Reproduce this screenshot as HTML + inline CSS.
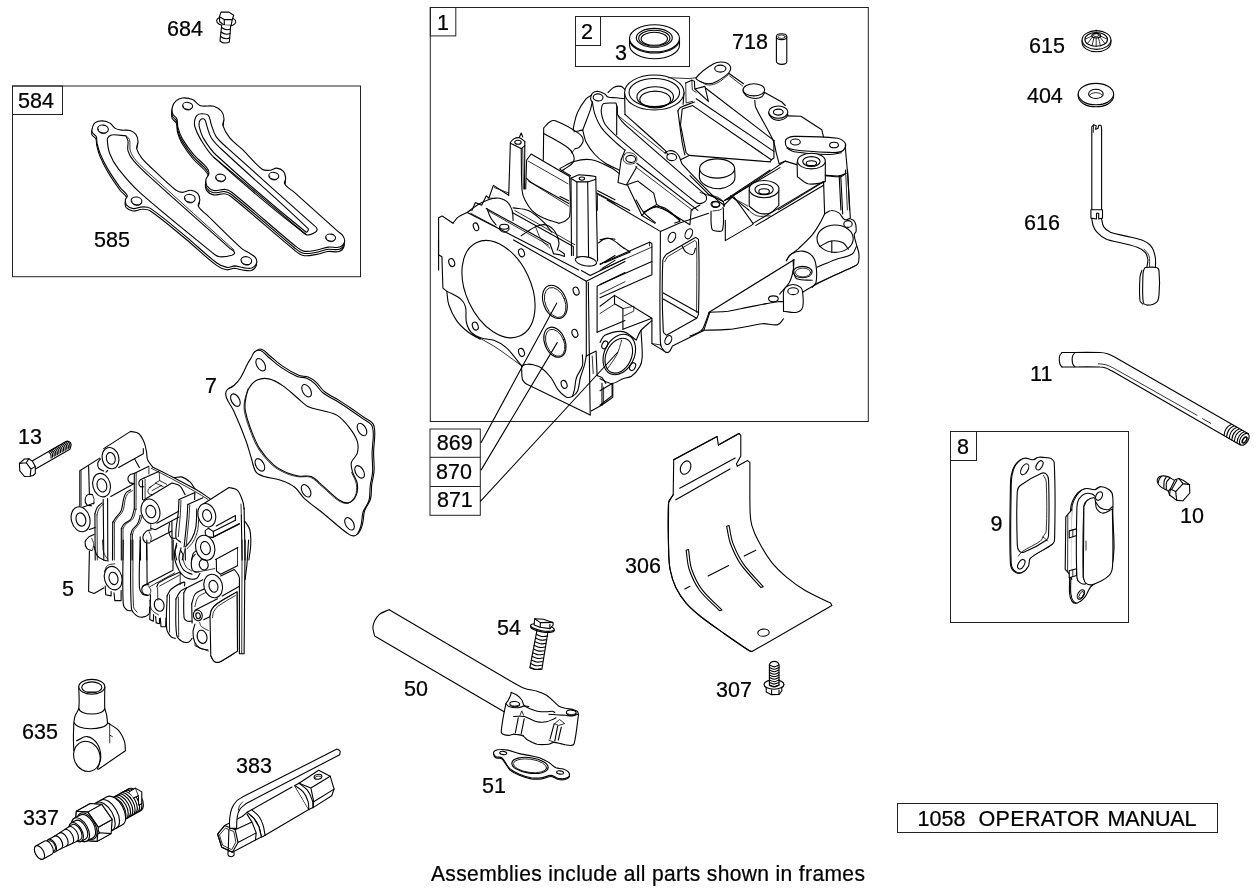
<!DOCTYPE html>
<html><head><meta charset="utf-8">
<style>
html,body{margin:0;padding:0;background:#fff;}
body{width:1260px;height:891px;overflow:hidden;font-family:"Liberation Sans",sans-serif;}
svg{display:block;filter:grayscale(1);}
text{font-family:"Liberation Sans",sans-serif;font-size:22.3px;fill:#000;stroke:#000;stroke-width:0.25;}
.f{fill:none;stroke:#222;stroke-width:1;}
.p{fill:none;stroke:#000;stroke-width:1.1;stroke-linecap:round;stroke-linejoin:round;}
.w{fill:#fff;stroke:#000;stroke-width:1.1;stroke-linecap:round;stroke-linejoin:round;}
.t{fill:none;stroke:#000;stroke-width:0.8;stroke-linecap:round;stroke-linejoin:round;}
</style></head><body>
<svg width="1260" height="891" viewBox="0 0 1260 891">
<rect width="1260" height="891" fill="#fff"/>
<g class="f">
<rect x="12.5" y="86" width="348" height="190.7"/>
<rect x="12.5" y="86" width="50" height="28.5"/>
<rect x="430.3" y="7.5" width="438" height="414"/>
<rect x="430.3" y="7.5" width="25.5" height="28.4"/>
<rect x="575.5" y="16.5" width="114" height="50"/>
<rect x="575.5" y="16.5" width="25" height="29"/>
<rect x="430" y="429" width="50.3" height="86.3"/>
<line x1="430" y1="457.3" x2="480.3" y2="457.3"/>
<line x1="430" y1="486.5" x2="480.3" y2="486.5"/>
<rect x="950.5" y="431.5" width="178" height="191"/>
<rect x="950.5" y="431.5" width="26" height="29"/>
<rect x="897.5" y="803.5" width="320" height="29"/>
</g>
<g id="labels" transform="scale(0.965 1)">
<text x="173.1" y="36">684</text>
<text x="18.7" y="108">584</text>
<text x="97.4" y="247">585</text>
<text x="452.8" y="30">1</text>
<text x="602.1" y="39">2</text>
<text x="637.3" y="60.5">3</text>
<text x="758.5" y="48.7">718</text>
<text x="1066.3" y="53">615</text>
<text x="1064.2" y="103.5">404</text>
<text x="1061.1" y="230">616</text>
<text x="1067.4" y="381">11</text>
<text x="991.7" y="454">8</text>
<text x="1026.4" y="531">9</text>
<text x="1222.8" y="523">10</text>
<text x="212.4" y="393">7</text>
<text x="18.7" y="444">13</text>
<text x="64.2" y="596">5</text>
<text x="452.6" y="450.5">869</text>
<text x="451.8" y="479.5">870</text>
<text x="452.8" y="507.5">871</text>
<text x="647.7" y="573">306</text>
<text x="515.0" y="635">54</text>
<text x="418.7" y="696">50</text>
<text x="499.5" y="793">51</text>
<text x="742.0" y="697">307</text>
<text x="22.8" y="739">635</text>
<text x="23.8" y="825">337</text>
<text x="244.6" y="773">383</text>
<text x="950.8" y="826">1058</text>
<text x="1014.0" y="826" textLength="125.4" lengthAdjust="spacing">OPERATOR</text>
<text x="1147.7" y="826" textLength="92.2" lengthAdjust="spacing">MANUAL</text>
<text x="446.6" y="881" style="font-size:21.8px" textLength="449.7" lengthAdjust="spacing">Assemblies include all parts shown in frames</text>
</g>
<g id="parts">
<!-- 684 bolt -->
<g class="p">
<ellipse cx="226.2" cy="21.3" rx="9.6" ry="4.8" transform="rotate(4 226.2 21.3)"/>
<path class="w" d="M221,12.1 L228.9,12.1 L233.7,15.2 L232.2,19.6 L231.2,25.2 L224.4,25.4 L219.7,21.8 L219.4,16.8 Z"/>
<path d="M219.4,16.8 L224.2,19.6 L232.2,19.6 M224.2,19.6 L224.4,25.4"/>
<path class="w" d="M221.7,25 L220,41 Q224,44.5 229.4,42 L230.7,25.5"/>
<path d="M221.5,27.5 Q226,31 230.5,29 M221,32 Q225.5,35.5 230.2,33.5 M220.5,36.5 Q225,40 229.8,38"/>
</g>
<!-- 585 gasket -->
<path class="w" d="M92.5,128.7C93,127.2 93.7,125.6 95.1,124.8C97.1,123.6 99.7,123.2 102.1,123.3C104.7,123.4 107.3,124.1 109.6,125.5C111.7,126.7 112.7,129.5 114.9,130.8C116.8,131.9 119.1,132.2 121.3,132.5C124.1,132.9 127.1,132.1 129.8,132.9C132,133.6 134.2,134.9 135.6,136.8C137,138.7 137.6,141.2 137.7,143.6C137.9,146.1 135.9,148.6 136.4,151C137.2,154.6 139.3,157.8 141.5,160.6C144.6,164.6 148.5,167.9 152.2,171.3C159.9,178.5 167.4,186.1 175.7,192.6C177.4,194 179.8,194.8 182.1,194.8C185,194.8 187.7,192.4 190.6,192.6C193.1,192.8 195.7,194 197.4,195.8C198.9,197.5 199.4,200 199.5,202.2C199.7,204.4 197.1,206.7 198.1,208.6C200.1,212.7 204.4,215.1 207.6,218.2C219,229.3 230,240.6 241.8,251.3C243.6,252.9 246.1,253.6 248.2,254.9C250.5,256.4 253.3,257.6 255,259.8C256.2,261.4 256.9,263.7 256.3,265.6C255.5,267.7 253.6,269.7 251.4,270.5C248.7,271.4 245.7,270.4 242.8,270C240,269.7 237.2,268.4 234.3,268.3C231.8,268.3 229.3,270.3 226.8,269.8C223,269.1 219.3,267.5 216.2,265.1C205.7,257.3 196.4,247.9 186.3,239.5C174.4,229.7 162.8,219.5 150.1,210.8C147.8,209.2 144.7,209.2 142,209.3C138.9,209.3 136,211.3 133,211C130.5,210.7 127.9,209.4 126.2,207.6C125,206.2 125,204 125.1,202.2C125.3,200.7 127.6,199.4 127,198C125.7,194.8 122.2,193.2 120.2,190.5C115.7,184.3 111.3,177.9 107.4,171.3C104.6,166.5 102.1,161.5 100,156.4C98.5,152.9 97.6,149.3 96.8,145.7C96.2,143.5 96.8,141 95.9,138.9C95.1,137.1 92.5,136.5 91.9,134.6C91.2,132.7 91.9,130.6 92.5,128.7Z"/>
<path class="w" d="M92.8,126.3C93.3,124.8 94,123.2 95.4,122.4C97.4,121.2 100,120.8 102.4,120.9C105,121 107.6,121.7 109.9,123.1C112,124.3 113,127.1 115.2,128.4C117.1,129.5 119.4,129.8 121.6,130.1C124.4,130.5 127.4,129.7 130.1,130.5C132.3,131.2 134.5,132.5 135.9,134.4C137.3,136.3 137.9,138.8 138,141.2C138.2,143.7 136.2,146.2 136.7,148.6C137.5,152.2 139.6,155.4 141.8,158.2C144.9,162.2 148.8,165.5 152.5,168.9C160.2,176.1 167.7,183.7 176,190.2C177.7,191.6 180.1,192.4 182.4,192.4C185.3,192.4 188,190 190.9,190.2C193.4,190.4 196,191.6 197.7,193.4C199.2,195.1 199.7,197.6 199.8,199.8C200,202 197.4,204.3 198.4,206.2C200.4,210.3 204.7,212.7 207.9,215.8C219.3,226.9 230.3,238.2 242.1,248.9C243.9,250.5 246.4,251.2 248.5,252.5C250.8,254 253.6,255.2 255.3,257.4C256.5,259 257.2,261.3 256.6,263.2C255.8,265.3 253.9,267.3 251.7,268.1C249,269 246,268 243.1,267.6C240.3,267.3 237.5,266 234.6,265.9C232.1,265.9 229.6,267.9 227.1,267.4C223.3,266.7 219.6,265.1 216.5,262.7C206,254.9 196.7,245.5 186.6,237.1C174.7,227.3 163.1,217.1 150.4,208.4C148.1,206.8 145,206.8 142.3,206.9C139.2,206.9 136.3,208.9 133.3,208.6C130.8,208.3 128.2,207 126.5,205.2C125.3,203.8 125.3,201.6 125.4,199.8C125.6,198.3 127.9,197 127.3,195.6C126,192.4 122.5,190.8 120.5,188.1C116,181.9 111.6,175.5 107.7,168.9C104.9,164.1 102.4,159.1 100.3,154C98.8,150.5 97.9,146.9 97.1,143.3C96.5,141.1 97.1,138.6 96.2,136.5C95.4,134.7 92.8,134.1 92.2,132.2C91.5,130.3 92.2,128.2 92.8,126.3Z"/>
<path class="p" d="M125.8,135.8C126.6,137.6 127.7,139.3 128,141.2C128.4,144.3 127.1,147.7 128,150.8C129,154.3 131,157.6 133.3,160.4C138.5,166.5 144.4,172 150.4,177.4C176.4,201.2 203,224.4 229.3,247.8C231,249.4 233.8,250.3 234.6,252.5C235,253.7 233.1,254.9 231.8,255.3C227.9,256.4 223.7,257 219.7,256.8C217.7,256.6 215.9,255.4 214.3,254.2C189.2,233.9 163.9,213.8 139.7,192.4C131.8,185.3 124.9,177.2 118.4,168.9C114.9,164.4 111.9,159.3 109.9,154C108.2,149.6 107.6,144.8 107.3,140.1C107.2,138.8 107.8,137.4 108.8,136.5C109.9,135.4 111.5,134.8 113.1,134.8C117.3,134.6 121.6,135.5 125.8,135.8Z"/>
<path class="t" d="M125.8,135.8C127.1,137.1 129,137.8 129.5,139.5C130.6,143.1 129.2,147.2 130.3,150.8C131.4,154.3 133.5,157.6 135.9,160.4C140.9,166.2 146.8,171.2 152.5,176.4C179.5,201 206.8,225.4 234,249.9"/>
<ellipse class="p" cx="103" cy="129" rx="5.4" ry="3.9" transform="rotate(10 103 129)"/>
<path class="t" d="M98.4,129.2 a4.6,3.2 10 0 0 9,2.2"/>
<ellipse class="p" cx="136.5" cy="200.9" rx="5.4" ry="3.9" transform="rotate(10 136.5 200.9)"/>
<path class="t" d="M131.9,201.1 a4.6,3.2 10 0 0 9,2.2"/>
<ellipse class="p" cx="189.8" cy="198.3" rx="5.4" ry="3.9" transform="rotate(10 189.8 198.3)"/>
<path class="t" d="M185.2,198.5 a4.6,3.2 10 0 0 9,2.2"/>
<ellipse class="p" cx="246.3" cy="260.6" rx="5.4" ry="3.9" transform="rotate(10 246.3 260.6)"/>
<path class="t" d="M241.7,260.8 a4.6,3.2 10 0 0 9,2.2"/>
<!-- 584 plate -->
<path class="w" d="M171.8,111.8C172.4,109.5 173.5,107.2 175.2,105.6C177,103.9 179.5,102.6 181.9,102.4C185.3,102.1 188.9,102.7 192,104C195.1,105.3 196.8,109.1 199.9,110.1C204.2,111.4 209,109.5 213.4,110.7C216.4,111.6 219.2,113.5 221.2,115.9C222.8,117.8 223.3,120.6 223.5,123.1C223.7,125.3 221.7,127.6 222.4,129.8C223.7,134.3 226.1,138.5 229.1,142.1C232.9,146.9 238.2,150.3 242.6,154.5C249,160.7 254.4,168.2 261.6,173.6C263.7,175.2 266.9,174.9 269.5,174.7C271.8,174.5 273.9,172.3 276.2,172.5C278.7,172.7 281.3,173.9 283,175.8C284.5,177.6 285,180.2 285.2,182.6C285.4,184.5 283.1,186.5 284.1,188.2C286.4,192 290.8,194.1 294.2,197.1C308.4,209.9 322.6,222.6 336.8,235.3C338.7,237 341.1,238.1 342.4,240.2C343.6,242.1 344.6,244.5 344,246.5C343.3,248.8 341.3,250.8 339.1,251.5C335.5,252.6 331.6,251 327.9,251.5C324,252 320.4,253.8 316.6,254.4C312.2,255.1 307.6,256.4 303.2,255.5C299.7,254.8 296.9,252.1 294.2,249.9C272.9,232.5 252.7,213.9 231.3,196.7C229.4,195.2 227,194 224.6,193.8C220.9,193.4 217.1,195.6 213.4,194.9C210.7,194.4 208.2,192.6 206.6,190.4C205.3,188.5 205.2,185.9 205.5,183.7C205.8,181.6 208.2,180.2 208.4,178.1C208.6,176.1 207.9,174 206.6,172.5C202.7,167.5 197.3,163.8 193.2,159C189,154.1 185.2,148.8 181.9,143.3C179.9,139.8 178.5,135.9 177.5,132C176.7,129.1 177.4,125.9 176.3,123.1C175.6,121.2 173,120.4 172.3,118.6C171.5,116.5 171.4,114 171.8,111.8Z"/>
<path class="w" d="M172,109.6C172.6,107.3 173.7,105 175.4,103.4C177.2,101.7 179.7,100.4 182.1,100.2C185.5,99.9 189.1,100.5 192.2,101.8C195.3,103.1 197,106.9 200.1,107.9C204.4,109.2 209.2,107.3 213.6,108.5C216.6,109.4 219.4,111.3 221.4,113.7C223,115.6 223.5,118.4 223.7,120.9C223.9,123.1 221.9,125.4 222.6,127.6C223.9,132.1 226.3,136.3 229.3,139.9C233.1,144.7 238.4,148.1 242.8,152.3C249.2,158.5 254.6,166 261.8,171.4C263.9,173 267.1,172.7 269.7,172.5C272,172.3 274.1,170.1 276.4,170.3C278.9,170.5 281.5,171.7 283.2,173.6C284.7,175.4 285.2,178 285.4,180.4C285.6,182.3 283.3,184.3 284.3,186C286.6,189.8 291,191.9 294.4,194.9C308.6,207.7 322.8,220.4 337,233.1C338.9,234.8 341.3,235.9 342.6,238C343.8,239.9 344.8,242.3 344.2,244.3C343.5,246.6 341.5,248.6 339.3,249.3C335.7,250.4 331.8,248.8 328.1,249.3C324.2,249.8 320.6,251.6 316.8,252.2C312.4,252.9 307.8,254.2 303.4,253.3C299.9,252.6 297.1,249.9 294.4,247.7C273.1,230.3 252.9,211.7 231.5,194.5C229.6,193 227.2,191.8 224.8,191.6C221.1,191.2 217.3,193.4 213.6,192.7C210.9,192.2 208.4,190.4 206.8,188.2C205.5,186.3 205.4,183.7 205.7,181.5C206,179.4 208.4,178 208.6,175.9C208.8,173.9 208.1,171.8 206.8,170.3C202.9,165.3 197.5,161.6 193.4,156.8C189.2,151.9 185.4,146.6 182.1,141.1C180.1,137.6 178.7,133.7 177.7,129.8C176.9,126.9 177.6,123.7 176.5,120.9C175.8,119 173.2,118.2 172.5,116.4C171.7,114.3 171.6,111.8 172,109.6Z"/>
<path class="w" d="M172.3,107.4C172.9,105.1 174,102.8 175.7,101.2C177.5,99.5 180,98.2 182.4,98C185.8,97.7 189.4,98.3 192.5,99.6C195.6,100.9 197.3,104.7 200.4,105.7C204.7,107 209.5,105.1 213.9,106.3C216.9,107.2 219.7,109.1 221.7,111.5C223.3,113.4 223.8,116.2 224,118.7C224.2,120.9 222.2,123.2 222.9,125.4C224.2,129.9 226.6,134.1 229.6,137.7C233.4,142.5 238.7,145.9 243.1,150.1C249.5,156.3 254.9,163.8 262.1,169.2C264.2,170.8 267.4,170.5 270,170.3C272.3,170.1 274.4,167.9 276.7,168.1C279.2,168.3 281.8,169.5 283.5,171.4C285,173.2 285.5,175.8 285.7,178.2C285.9,180.1 283.6,182.1 284.6,183.8C286.9,187.6 291.3,189.7 294.7,192.7C308.9,205.5 323.1,218.2 337.3,230.9C339.2,232.6 341.6,233.7 342.9,235.8C344.1,237.7 345.1,240.1 344.5,242.1C343.8,244.4 341.8,246.4 339.6,247.1C336,248.2 332.1,246.6 328.4,247.1C324.5,247.6 320.9,249.4 317.1,250C312.7,250.7 308.1,252 303.7,251.1C300.2,250.4 297.4,247.7 294.7,245.5C273.4,228.1 253.2,209.5 231.8,192.3C229.9,190.8 227.5,189.6 225.1,189.4C221.4,189 217.6,191.2 213.9,190.5C211.2,190 208.7,188.2 207.1,186C205.8,184.1 205.7,181.5 206,179.3C206.3,177.2 208.7,175.8 208.9,173.7C209.1,171.7 208.4,169.6 207.1,168.1C203.2,163.1 197.8,159.4 193.7,154.6C189.5,149.7 185.7,144.4 182.4,138.9C180.4,135.4 179,131.5 178,127.6C177.2,124.7 177.9,121.5 176.8,118.7C176.1,116.8 173.5,116 172.8,114.2C172,112.1 171.9,109.6 172.3,107.4Z"/>
<path class="p" d="M194.8,119.8C195.1,118.2 195.8,116.4 197,115.3C198.2,114.2 199.9,113.7 201.5,113.7C203.8,113.7 206.7,113.6 208.3,115.3C210.4,117.6 210.1,121.3 211.2,124.3C212.7,128.4 213.6,133 216.1,136.6C219.1,141 223.4,144.3 227.3,147.9C255.6,173.5 284.3,198.6 312.6,224.2C314.3,225.7 316.9,226.9 317.1,229.1C317.3,230.8 315.3,232.4 313.8,233.1C311.4,234.3 308,236.1 305.9,234.5C274,210.3 243.5,184.2 213.9,157.3C208.2,152.2 204.4,145.3 200.4,138.9C198,135 196.1,130.9 194.8,126.5C194.2,124.4 194.4,122 194.8,119.8Z"/>
<path class="p" d="M199.3,122C199.6,120.8 200.4,119.6 201.5,119.1C202.6,118.7 204.2,118.9 204.9,119.8C206.1,121.3 206,123.6 206.7,125.4C208.1,129.5 208.8,134.1 211.2,137.7C214.3,142.6 218.6,146.6 222.9,150.5C251,176.9 280.6,201.7 308.1,228.7C309.1,229.6 307,232.9 305.9,232C275.1,207.4 245.2,181.6 216.1,155C211.1,150.5 207.3,144.7 203.8,138.9C201.7,135.5 200.5,131.5 199.5,127.6C199,125.8 198.9,123.9 199.3,122Z"/>
<path class="p" d="M213.9,157.3C225.8,167.2 237.9,177.1 249.8,187.1C268.5,202.9 287.2,218.7 305.9,234.5" stroke-width="1.6"/>
<ellipse class="p" cx="187.6" cy="105.9" rx="5" ry="3.5" transform="rotate(8 187.6 105.9)"/>
<path class="t" d="M183.4,106.1 a4.2,2.8 8 0 0 8.2,2"/>
<ellipse class="p" cx="220.6" cy="177.7" rx="5" ry="3.5" transform="rotate(8 220.6 177.7)"/>
<path class="t" d="M216.4,177.9 a4.2,2.8 8 0 0 8.2,2"/>
<ellipse class="p" cx="273.8" cy="175.9" rx="5" ry="3.5" transform="rotate(8 273.8 175.9)"/>
<path class="t" d="M269.6,176.1 a4.2,2.8 8 0 0 8.2,2"/>
<ellipse class="p" cx="330.6" cy="237.6" rx="5" ry="3.5" transform="rotate(8 330.6 237.6)"/>
<path class="t" d="M326.4,237.8 a4.2,2.8 8 0 0 8.2,2"/>
<!-- seal 3 -->
<g class="p">
<path class="w" d="M629.5,38.5 L629.5,45 A25,13.7 0 0 0 679.5,45 L679.5,38.5"/>
<path d="M630,42 A25,13.7 0 0 0 679,42"/>
<ellipse class="w" cx="654.5" cy="38.3" rx="25" ry="13.6"/>
<ellipse cx="654.3" cy="37.8" rx="18" ry="9.4"/>
<ellipse cx="654.3" cy="38.2" rx="15.6" ry="8"/>
<ellipse cx="654.3" cy="38.8" rx="13.2" ry="6.6"/>
<path d="M650,46.3 L661,46.3" stroke-width="1.6" stroke="#555"/>
</g>
<!-- pin 718 -->
<g class="p">
<path class="w" d="M776.4,36.7 L776.4,61.6 A5.2,2.8 0 0 0 786.8,61.6 L786.8,36.7"/>
<ellipse class="w" cx="781.6" cy="36.7" rx="5.2" ry="2.9"/>
<ellipse cx="781.6" cy="36.7" rx="3.6" ry="1.7" class="t"/>
</g>
<!-- 615 -->
<g class="p">
<path class="w" d="M1082.1,40.2 L1082.1,42.6 A14.4,9.2 0 0 0 1110.9,42.6 L1110.9,40.2"/>
<ellipse class="w" cx="1096.5" cy="40" rx="14.4" ry="9.4"/>
<ellipse cx="1096.2" cy="39.4" rx="11.3" ry="6.9"/>
<ellipse cx="1096.2" cy="35.6" rx="4.4" ry="2.4"/>
<ellipse cx="1096.2" cy="35.2" rx="3" ry="1.4" class="t"/>
<path class="t" d="M1096.2,38 L1096.2,46.3 M1092.5,37 L1087.5,43.5 M1091.9,36 L1085.6,39 M1099.9,37 L1104.9,43.5 M1100.5,36 L1106.8,39 M1094,37.7 L1092,45.6 M1098.4,37.7 L1100.4,45.6 M1096.2,30 L1096.2,31.5"/>
</g>
<!-- 404 -->
<g class="p">
<path class="w" d="M1078.2,94.1 L1078.2,96.1 A17.7,10.7 0 0 0 1113.6,96.1 L1113.6,94.1"/>
<ellipse class="w" cx="1095.9" cy="94.1" rx="17.7" ry="10.7"/>
<ellipse cx="1095.9" cy="93.9" rx="7.3" ry="4.6"/>
<path class="t" d="M1089.4,95.2 A7,4.2 0 0 1 1102.4,95.2"/>
</g>
<!-- 616 -->
<path class="w" d="M1091.8,209.8L1091.8,126.8L1093.6,124.8L1096.2,125.7L1095.6,129.3L1098,128.4L1098.7,125.3L1101,125.3L1101.6,127.9L1101.6,209.8"/>
<path class="t" d="M1093.6,124.8L1093.3,132.4"/>
<path class="p" d="M1091.8,218.8C1092.2,221 1092.3,223.4 1093.1,225.5C1094,227.9 1095.1,230.4 1096.9,232.2C1099.5,235 1102.5,237.5 1105.9,239C1110.8,241.1 1116.4,241.6 1121.6,243C1126.8,244.4 1132.3,245.3 1137.3,247.3C1140.2,248.4 1143.1,250.1 1145.1,252.4C1146.7,254.2 1147.5,256.8 1147.8,259.2C1148.2,261.8 1147.2,264.4 1146.9,267 M1101.6,218.8C1102.3,221.4 1102.2,224.4 1103.6,226.6C1105.2,229.1 1107.7,231.1 1110.4,232.2C1115.3,234.3 1120.8,234.7 1126.1,236.1C1131.3,237.4 1136.8,238 1141.8,240.1C1145.3,241.5 1148.8,243.4 1151.2,246.4C1153.5,249.3 1154.5,253.2 1155.2,256.9C1155.9,260.2 1155.4,263.6 1155.5,267"/>
<path class="t" d="M1144,249.1C1145.7,251.3 1148.1,253.1 1149,255.8C1150.1,259.4 1149.4,263.3 1149.6,267"/>
<path class="w" d="M1090.9,209.8L1102.5,209.8L1102.5,218.1L1098.7,219L1098.7,213.2L1096.5,213.2L1096.5,219L1090.9,218.1Z"/>
<path class="p" d="M1141.8,270.4C1141.2,272.6 1140.1,274.8 1140,277.1C1139.5,284.9 1139.1,292.8 1140,300.7C1140.1,302.2 1141.9,303 1142.9,304.2"/>
<path class="w" d="M1145.1,267.5C1148.9,267.5 1152.7,266.5 1156.4,267.5C1157.8,267.8 1158.9,269.6 1159,271C1159.8,279 1159.7,287.1 1159,295C1158.8,297.7 1158.3,300.7 1156.4,302.4C1154,304.5 1150.5,305.1 1147.4,305.1C1145.8,305.1 1143.6,304 1143.3,302.4C1142,293.7 1142.8,284.8 1142.9,276C1142.9,274.1 1143.1,272.2 1143.6,270.4C1143.9,269.3 1144.6,268.4 1145.1,267.5Z"/>
<!-- tube 11 -->
<path class="p" d="M1062,352.5C1074.7,352.5 1087.3,352.2 1100,352.5C1102.5,352.6 1105.1,353 1107.5,353.7C1109.6,354.3 1111.4,355.4 1113.3,356.3L1248.4,433.7 M1062,367C1074.7,367 1087.3,366.7 1100,367C1102,367 1104,367.4 1105.8,368C1107.9,368.7 1109.7,369.9 1111.7,370.8L1240.3,445"/>
<path class="p" d="M1062,352.5C1061.2,353.6 1060.1,354.6 1059.7,355.8C1059.2,357.1 1059.3,358.6 1059.3,360C1059.4,361.4 1059.5,362.9 1060,364.2C1060.4,365.2 1061.3,366.1 1062,367"/>
<path class="p" d="M1074.7,352.8C1073.9,354 1073,355 1072.5,356.3C1072.1,357.5 1072.1,358.8 1072.2,360C1072.2,361.3 1072.2,362.6 1072.7,363.8C1073.1,365 1074,365.8 1074.7,366.8"/>
<path class="t" d="M1098.3,363.8C1100.8,364.1 1103.4,364 1105.8,364.7C1108.2,365.3 1110.3,366.6 1112.5,367.5L1197.0,415.3"/>
<path class="t" d="M1202.5,418.7L1210.8,423.3"/>
<path class="p" d="M1231.3,424.4 q-6.5,2.5 -7.3,11"/>
<path class="p" d="M1233.9,425.9 q-6.5,2.5 -7.3,11"/>
<path class="p" d="M1236.5,427.4 q-6.5,2.5 -7.3,11"/>
<path class="p" d="M1239.1,428.9 q-6.5,2.5 -7.3,11"/>
<path class="p" d="M1241.7,430.3 q-6.5,2.5 -7.3,11"/>
<path class="p" d="M1244.3,431.8 q-6.5,2.5 -7.3,11"/>
<ellipse class="w" cx="1244.3" cy="439.3" rx="6.6" ry="3.9" transform="rotate(-57 1244.3 439.3)"/>
<ellipse class="w" cx="1244.6" cy="440" rx="3.3" ry="1.7" transform="rotate(-57 1244.6 440)" style="stroke-width:1.6"/>
<!-- plug 10 -->
<path class="w" d="M1173.7,479.9C1171.4,478.7 1169.3,477.1 1166.9,476.4C1165.2,475.8 1163.3,475.7 1161.5,476C1160.4,476.1 1159.2,476.5 1158.5,477.4C1157.7,478.4 1156.9,479.9 1157.2,481.2C1157.5,483.1 1158.7,485 1160.2,486.3C1162.5,488.4 1165.6,489.5 1168.3,491.1"/>
<path class="p" d="M1161.5,476.2C1160.8,477.2 1159.8,478 1159.2,479.2C1158.7,480.2 1158.6,481.4 1158.3,482.6M1166.6,476.6C1165.8,478 1164.6,479.3 1164.2,480.9C1163.7,483.2 1164,485.6 1163.9,487.9M1170,478C1168.8,479.4 1167.1,480.5 1166.6,482.2C1165.8,484.6 1166.4,487.2 1166.3,489.6"/>
<path class="w" d="M1175.7,491.6L1170.3,489L1175,479.7L1178.7,478.5L1183.1,480.2L1189.5,484.6L1189.8,493L1183.1,500.7L1176.7,500.4L1169.6,495L1168.3,491.1L1170.3,489"/>
<path class="p" d="M1175.7,491.6L1183.1,483.6L1189.5,484.6M1175.7,491.6L1176.7,500.4M1183.1,483.6L1178.7,478.5M1171.6,489.6L1176.9,480.2M1170.3,489L1169.6,495"/>
<!-- gasket 9 -->
<path class="w" d="M1049.8,458.6C1051,459.9 1053.4,460.8 1053.4,462.6C1054.7,488.2 1054.4,513.8 1053.8,539.4C1053.8,541.2 1053.2,543.3 1051.8,544.4C1044.9,549.9 1036.1,552.6 1029.6,558.6C1027.6,560.5 1029,564.3 1027.6,566.7C1026.2,569.1 1024.2,571.7 1021.5,572.7C1019.3,573.6 1016.3,573.2 1014.5,571.7C1012.1,569.8 1010.6,566.6 1010.4,563.6C1009.2,538.1 1010.1,512.5 1010.4,486.9C1010.5,482.8 1010.5,478.7 1011.4,474.7C1012.2,471.2 1013.3,467.5 1015.5,464.6C1017.5,461.9 1020.3,459.4 1023.5,458.6C1026.5,457.8 1029.6,460.4 1032.6,460.2C1034.5,460.1 1035.8,457.7 1037.7,457.6C1041.7,457.2 1045.8,458.2 1049.8,458.6Z"/>
<path class="w" d="M1050.6,458.2C1051.8,459.5 1054.2,460.4 1054.2,462.2C1055.5,487.8 1055.2,513.4 1054.6,539C1054.6,540.8 1054,542.9 1052.6,544C1045.7,549.5 1036.9,552.2 1030.4,558.2C1028.4,560.1 1029.8,563.9 1028.4,566.3C1027,568.7 1025,571.3 1022.3,572.3C1020.1,573.2 1017.1,572.8 1015.3,571.3C1012.9,569.4 1011.4,566.2 1011.2,563.2C1010,537.7 1010.9,512.1 1011.2,486.5C1011.3,482.4 1011.3,478.3 1012.2,474.3C1013,470.8 1014.1,467.1 1016.3,464.2C1018.3,461.5 1021.1,459 1024.3,458.2C1027.3,457.4 1030.4,460 1033.4,459.8C1035.3,459.7 1036.6,457.3 1038.5,457.2C1042.5,456.8 1046.6,457.8 1050.6,458.2Z"/>
<path class="p" d="M1017.3,491.5C1017.4,489.3 1018.5,486.8 1020.3,485.5C1026.8,480.6 1034,476.5 1041.5,473.3C1043.1,472.7 1045.4,473.1 1046.6,474.3C1048.1,475.8 1048.5,478.3 1048.6,480.4C1049.2,498.6 1049.2,516.8 1048.6,534.9C1048.5,536.8 1048,539 1046.6,540C1039.7,544.9 1032.2,548.9 1024.3,552.1C1022.8,552.8 1020.5,552.3 1019.3,551.1C1017.8,549.6 1017.3,547.2 1017.3,545.1C1016.7,527.2 1016.4,509.3 1017.3,491.5Z"/>
<path class="t" d="M1043.5,475.4C1044.4,477.4 1046.1,479.2 1046.2,481.4C1046.9,497.9 1047.1,514.4 1046.2,530.9C1046,533.2 1044,535 1042.9,537C1042.2,538.3 1041.8,540.1 1040.5,541C1034.8,545 1028.1,547.6 1022.3,551.5C1020.6,552.7 1019.6,554.6 1018.3,556.2"/>
<path class="t" d="M1042.9,537C1043.8,537.6 1044.7,538.3 1045.6,539C1046.3,539.6 1046.9,540.3 1047.6,541"/>
<ellipse class="p" cx="1024.7" cy="469.3" rx="3.2" ry="6" transform="rotate(30 1024.7 469.3)"/>
<ellipse class="p" cx="1039.5" cy="465.3" rx="2.8" ry="5" transform="rotate(30 1039.5 465.3)"/>
<ellipse class="p" cx="1021.3" cy="564.2" rx="2.9" ry="5.2" transform="rotate(30 1021.3 564.2)"/>
<!-- breather -->
<path class="w" d="M1070.6,509C1070.7,506.2 1071.5,503.4 1072.6,500.9C1073.9,498 1075.4,495.1 1077.7,492.8C1079.6,490.9 1082.1,489.3 1084.8,488.8C1087.8,488.3 1090.8,490.3 1093.9,490C1095.8,489.8 1097,487.4 1098.9,487.2C1101.3,486.9 1103.9,487.6 1106,488.8C1108.1,489.9 1110.4,491.5 1111,493.8C1112.4,499.4 1111.7,505.3 1111.6,511C1111.4,530.5 1115.4,550.8 1110,569.6C1107.6,578.1 1095.9,580.3 1089.8,586.8C1087,589.7 1086.3,594.3 1083.7,597.5C1081.9,599.8 1079.5,602.2 1076.7,603.1C1075.1,603.6 1073,602.6 1072,601.3C1070.4,599.2 1069.9,596.4 1069.6,593.8C1069.1,589.2 1069.6,584.4 1069.6,579.7C1069.9,556.1 1069.7,532.5 1070.6,509Z"/>
<path class="w" d="M1071.8,508.7C1071.9,505.9 1072.7,503.1 1073.8,500.6C1075.1,497.7 1076.6,494.8 1078.9,492.5C1080.8,490.6 1083.3,489 1086,488.5C1089,488 1092,490 1095.1,489.7C1097,489.5 1098.2,487.1 1100.1,486.9C1102.5,486.6 1105.1,487.3 1107.2,488.5C1109.3,489.6 1111.6,491.2 1112.2,493.5C1113.6,499.1 1112.9,505 1112.8,510.7C1112.6,530.2 1116.6,550.5 1111.2,569.3C1108.8,577.8 1097.1,580 1091,586.5C1088.2,589.4 1087.5,594 1084.9,597.2C1083.1,599.5 1080.7,601.9 1077.9,602.8C1076.3,603.3 1074.2,602.3 1073.2,601C1071.6,598.9 1071.1,596.1 1070.8,593.5C1070.3,588.9 1070.8,584.1 1070.8,579.4C1071.1,555.8 1070.9,532.2 1071.8,508.7Z"/>
<ellipse class="p" cx="1099.1" cy="496" rx="3" ry="4.6" transform="rotate(28 1099.1 496)"/>
<ellipse class="p" cx="1080.9" cy="594.5" rx="3" ry="5.2" transform="rotate(30 1080.9 594.5)"/>
<ellipse class="t" cx="1081.4" cy="594.9" rx="1.8" ry="3.8" transform="rotate(30 1081.4 594.9)"/>
<path class="w" d="M1071.8,509.7L1065.8,516.8L1065.2,569.3L1070.4,574.9L1071.8,579.4"/>
<path class="t" d="M1067.8,515.2L1067.6,571.3"/>
<path class="w" d="M1076.9,507.7C1076.9,504.7 1077.4,501.6 1078.9,499C1080.2,496.7 1082.4,494.7 1084.9,493.7C1087.2,492.9 1089.8,493.3 1092,494.1C1093.4,494.7 1096,496.4 1095.1,497.6C1093.3,499.8 1089.2,498.8 1087,500.6C1085.2,502 1084,504.4 1083.9,506.7C1082.8,530.2 1082.7,553.8 1083.3,577.4C1083.4,579.6 1087.2,581.6 1086,583.4C1084.8,585.1 1081.6,583.8 1079.9,582.6C1078.2,581.5 1077,579.4 1076.9,577.4C1075.9,554.2 1076.3,530.9 1076.9,507.7Z"/>
<path class="w" d="M1083.9,506.7C1084.9,504.6 1085.3,502.1 1087,500.6C1088.9,498.9 1091.5,497.5 1094,497.8C1095.4,497.9 1095.1,500.3 1095.5,501.6C1096,503.9 1095.3,506.7 1096.7,508.7C1098.1,510.9 1100.5,513.1 1103.1,513.1C1106.5,513.2 1109.3,510.4 1112.4,509.1C1112.5,527.8 1113.5,546.6 1112.6,565.3C1112.5,568.8 1111.7,572.9 1109.2,575.4C1104.8,579.7 1098.9,582.4 1093,584.4C1090.8,585.2 1087.9,584.8 1086,583.4C1084.2,582.1 1084.2,579.4 1083.3,577.4L1083.9,506.7Z"/>
<path class="p" d="M1095.5,501.6C1097,503.6 1098,506.3 1100.1,507.7C1102.4,509.2 1105.4,509.9 1108.2,509.7C1109.9,509.6 1111,507.7 1112.4,506.7"/>
<path class="t" d="M1086,541L1086,550.1" stroke="#fff" stroke-width="2"/>
<path class="w" d="M1069.2,530.9L1076.5,528.9L1076.5,535.6L1069.2,538Z"/>
<path class="t" d="M1072.8,529.9L1072.8,536.8"/>
<path class="w" d="M1069.2,570.7L1076.5,568.7L1076.5,575.4L1069.2,577.8Z"/>
<path class="t" d="M1072.8,569.7L1072.8,576.6"/>
<!-- gasket 7 -->
<path class="w" d="M252.7,356.5C253.9,354.5 254.4,352 256.3,350.6C257.9,349.4 260.3,348.7 262.2,349.4C265,350.5 266.9,353.3 269.2,355.3C273.5,358.8 277.6,362.8 282.2,365.9C287.4,369.5 292.9,372.8 298.7,375.3C301.6,376.6 305.1,375.8 308.1,377C311.2,378.2 313.9,380.2 316.3,382.4C319.4,385.2 321.3,389.2 324.6,391.8C328.9,395.2 334.1,397.2 338.7,400.1C343.5,403.1 348.2,406.3 352.9,409.5C356.8,412.2 360.7,415 364.6,417.7C367.4,419.7 371,420.8 372.9,423.6C374.7,426.3 374.7,429.8 374.8,433C374.9,439.3 373.7,445.6 373.6,451.9C373.5,458.2 374.4,464.5 374.1,470.7C373.8,475.5 372.3,480.1 371.7,484.9C371.1,489.6 371.8,494.4 370.5,499C369.4,503.2 366,506.6 364.6,510.8C363.2,515.3 363.7,520.4 362.3,524.9C361.3,528.2 360.3,531.9 357.6,533.9C355.6,535.2 352.5,534.5 350.5,533.2C341.2,527 333.3,519 324.6,512C318.4,507 311.6,502.5 305.7,497.1C302.2,493.8 300.2,489 296.3,486.1C292.1,482.8 287.2,480.7 282.2,479C276.9,477.1 271,477.2 265.7,475.4C262.7,474.4 259.2,473.3 257.4,470.7C254.6,466.6 254.3,461.3 252.7,456.6C250.7,450.3 249.2,443.9 246.8,437.8C243.3,428.2 239.3,418.8 235.1,409.5C233,405 229.6,401.2 228,396.5C227.2,394.3 226.8,391.5 228,389.5C229.4,387 233,386.7 235.1,384.7C237.7,382.3 240.2,379.6 242.1,376.5C244.9,372 246.7,367 249.2,362.4C250.3,360.3 251.6,358.4 252.7,356.5Z"/>
<path class="w" d="M251.2,357.7C252.4,355.7 252.9,353.2 254.8,351.8C256.4,350.6 258.8,349.9 260.7,350.6C263.5,351.7 265.4,354.5 267.7,356.5C272,360 276.1,364 280.7,367.1C285.9,370.7 291.4,374 297.2,376.5C300.1,377.8 303.6,377 306.6,378.2C309.7,379.4 312.4,381.4 314.8,383.6C317.9,386.4 319.8,390.4 323.1,393C327.4,396.4 332.6,398.4 337.2,401.3C342,404.3 346.7,407.5 351.4,410.7C355.3,413.4 359.2,416.2 363.1,418.9C365.9,420.9 369.5,422 371.4,424.8C373.2,427.5 373.2,431 373.3,434.2C373.4,440.5 372.2,446.8 372.1,453.1C372,459.4 372.9,465.7 372.6,471.9C372.3,476.7 370.8,481.3 370.2,486.1C369.6,490.8 370.3,495.6 369,500.2C367.9,504.4 364.5,507.8 363.1,512C361.7,516.5 362.2,521.6 360.8,526.1C359.8,529.4 358.8,533.1 356.1,535.1C354.1,536.4 351,535.7 349,534.4C339.7,528.2 331.8,520.2 323.1,513.2C316.9,508.2 310.1,503.7 304.2,498.3C300.7,495 298.7,490.2 294.8,487.3C290.6,484 285.7,481.9 280.7,480.2C275.4,478.3 269.5,478.4 264.2,476.6C261.2,475.6 257.7,474.5 255.9,471.9C253.1,467.8 252.8,462.5 251.2,457.8C249.2,451.5 247.7,445.1 245.3,439C241.8,429.4 237.8,420 233.6,410.7C231.5,406.2 228.1,402.4 226.5,397.7C225.7,395.5 225.3,392.7 226.5,390.7C227.9,388.2 231.5,387.9 233.6,385.9C236.2,383.5 238.7,380.8 240.6,377.7C243.4,373.2 245.2,368.2 247.7,363.6C248.8,361.5 250.1,359.6 251.2,357.7Z"/>
<path class="p" d="M245.3,401.3C246,396.8 246.7,392.2 248.9,388.3C250.8,384.9 253.6,381.7 257.1,380.1C260.7,378.4 265.1,378 268.9,378.9C274,380 278.7,383 283,385.9C288.1,389.3 292.4,393.8 297.2,397.7C301.1,400.9 304.5,404.9 309,407.1C313.3,409.3 318.4,409.3 323.1,410.7C327.9,412.1 333,412.7 337.2,415.4C341.9,418.4 345.6,422.8 349,427.2C352.3,431.5 355.6,436.1 357.3,441.3C358.4,445.1 358.3,449.3 357.3,453.1C356.3,456.7 352.3,458.9 351.4,462.5C350.6,465.6 351.7,468.9 352.5,471.9C353.7,476 356.6,479.5 357.3,483.7C357.8,487.6 357.7,491.9 356.1,495.5C354.7,498.5 352.2,501.7 349,502.6C345.9,503.5 342.3,501.9 339.6,500.2C333.5,496.3 328.7,490.7 323.1,486.1C319.2,482.9 315.9,478.6 311.3,476.6C307.7,475.1 303.4,476.8 299.5,476.2C295.5,475.6 291.5,474.7 287.7,473.1C282.7,470.9 277.7,468.5 273.6,464.9C268.2,460.1 263.3,454.5 259.5,448.4C255.4,441.8 252.8,434.4 250.1,427.2C248,421.8 246.4,416.3 245.3,410.7C244.8,407.6 244.9,404.4 245.3,401.3Z"/>
<path class="t" d="M351.6,472.5C353.2,476.5 355.7,480.1 356.4,484.3C356.9,488.2 356.8,492.5 355.2,496.1C353.8,499.1 351.3,502.3 348.1,503.2C345,504.1 341.4,502.5 338.7,500.8C332.6,496.9 327.8,491.3 322.2,486.7C318.3,483.5 315,479.2 310.4,477.2C306.8,475.7 302.5,477.4 298.6,476.8C294.6,476.2 290.6,475.3 286.8,473.7C281.8,471.5 276.8,469.1 272.7,465.5C267.3,460.7 262.4,455.1 258.6,449C254.5,442.4 251.9,435 249.2,427.8C247.1,422.4 245.5,416.9 244.4,411.3C243.9,408.2 244,405 244.4,401.9C245.1,397.4 246.8,393.2 248,388.9"/>
<ellipse class="p" cx="260.7" cy="364.7" rx="4" ry="6.8" transform="rotate(-30 260.7 364.7)"/>
<ellipse class="p" cx="306.6" cy="390.7" rx="4" ry="6.8" transform="rotate(-30 306.6 390.7)"/>
<ellipse class="p" cx="362" cy="429.5" rx="4" ry="6.8" transform="rotate(-30 362 429.5)"/>
<ellipse class="p" cx="359.6" cy="471.9" rx="4" ry="6.8" transform="rotate(-30 359.6 471.9)"/>
<ellipse class="p" cx="349.5" cy="523.8" rx="4" ry="6.8" transform="rotate(-30 349.5 523.8)"/>
<ellipse class="p" cx="306.1" cy="490.8" rx="4" ry="6.8" transform="rotate(-30 306.1 490.8)"/>
<ellipse class="p" cx="259.9" cy="464.9" rx="4" ry="6.8" transform="rotate(-30 259.9 464.9)"/>
<ellipse class="p" cx="235.4" cy="400.1" rx="4" ry="6.8" transform="rotate(-30 235.4 400.1)"/>
<!-- bolt 13 -->
<path class="w" d="M32.6,460.7L65.9,441.5M65.9,441.5C66.9,441.5 68,440.9 68.9,441.4C70,441.9 71,443 71.1,444.2C71.4,445.9 70.3,447.6 69.9,449.2M69.9,449.2L35.9,468.8"/>
<path class="p" d="M48.4,451.6C49.2,452.5 50.3,453.2 50.7,454.3C51.2,455.4 51,456.8 51.1,458M50,450.7C50.7,451.6 51.8,452.3 52.3,453.4C52.8,454.6 52.5,455.9 52.6,457.1M51.5,449.9C52.3,450.8 53.4,451.5 53.9,452.6C54.4,453.7 54.1,455 54.2,456.3M53.1,449C53.9,449.9 55,450.6 55.5,451.7C55.9,452.8 55.7,454.2 55.8,455.4M54.7,448.1C55.5,449 56.6,449.7 57,450.8C57.5,452 57.3,453.3 57.4,454.5M56.2,447.3C57,448.1 58.1,448.8 58.6,449.9C59.1,451.1 58.8,452.4 58.9,453.6M57.8,446.4C58.6,447.3 59.7,448 60.2,449.1C60.6,450.2 60.4,451.5 60.5,452.8M59.4,445.5C60.2,446.4 61.3,447.1 61.7,448.2C62.2,449.3 62,450.7 62.1,451.9M61,444.6C61.7,445.5 62.8,446.2 63.3,447.3C63.8,448.5 63.5,449.8 63.6,451M62.5,443.8C63.3,444.7 64.4,445.4 64.9,446.5C65.4,447.6 65.1,448.9 65.2,450.2M64.1,442.9C64.9,443.8 66,444.5 66.5,445.6C66.9,446.7 66.7,448.1 66.8,449.3M65.7,442C66.5,442.9 67.6,443.6 68,444.7C68.5,445.9 68.2,447.2 68.4,448.4M67.2,441.2C68,442.1 69.1,442.8 69.6,443.9C70.1,445 69.8,446.3 69.9,447.6" stroke-width="1.5"/>
<path class="w" d="M24.5,459L28.9,458.7L32.6,461.4L35.3,466.4L35.3,473.5L33.2,475.5L30.2,476.2L24.5,476.5L19.8,470.8L19.4,463.4Z"/>
<path class="p" d="M19.4,463.4L26.2,462.7L30.9,469.1L30.2,476.2M26.2,462.7L28.9,458.7M30.9,469.1L35.3,466.4"/>
<!-- cylinder head 5 -->
<path class="p" d="M79.8,506.5L79.8,470.8L99.7,458.1"/>
<path class="t" d="M81.1,505.7L81.1,471.1"/>
<path class="p" d="M88.6,466L89.4,494.6"/>
<path class="p" d="M100.5,458.9C99.6,460.2 98,461.3 97.8,462.9C97.5,464.7 97.8,466.9 98.9,468.4C99.9,469.9 102.1,470.2 103.7,471.1"/>
<path class="p" d="M103.7,448.6L130.6,431.4M130.6,431.4C133.3,432.1 136.4,431.8 138.6,433.5C141.3,435.6 142.8,439.1 144.1,442.2C145.4,445.2 145.9,448.5 146.5,451.7C147,454.4 146.6,457.2 147.6,459.7C148.8,462.5 151.1,464.8 152.9,467.3 M118.7,467.6L143.3,453.7L143.3,448.6"/>
<path class="p" d="M134.6,458.9L139.4,467.6"/>
<ellipse class="w" cx="110.5" cy="458.1" rx="8.3" ry="10.8" transform="rotate(-15 110.5 458.1)"/>
<ellipse class="p" cx="110.8" cy="458.4" rx="4.4" ry="6" transform="rotate(-15 110.8 458.4)"/>
<path class="p" d="M110.8,496.5L133.8,483.8"/>
<path class="p" d="M106,472.1L107.6,470.5"/>
<ellipse class="w" cx="101.6" cy="485.1" rx="8.7" ry="11.9" transform="rotate(-15 101.6 485.1)"/>
<ellipse class="p" cx="101.9" cy="485.4" rx="4.8" ry="6.7" transform="rotate(-15 101.9 485.4)"/>
<path class="p" d="M92.5,494.6C91,494.6 89.1,493.7 87.8,494.6C86.2,495.6 85.2,497.5 85.1,499.4C84.9,501.3 85.6,503.6 87,504.9C88.1,506 90.2,505.4 91.7,505.7"/>
<path class="t" d="M92.5,494.6L94.1,499.4L93.7,504.1"/>
<path class="p" d="M73.5,510.8L94.1,502.9"/>
<path class="p" d="M89.4,529.5L95.2,527.6"/>
<ellipse class="w" cx="80.6" cy="519.2" rx="9.2" ry="12.7" transform="rotate(-15 80.6 519.2)"/>
<ellipse class="p" cx="80.9" cy="519.5" rx="4.8" ry="6.7" transform="rotate(-15 80.9 519.5)"/>
<path class="p" d="M94.1,534.6C92.3,535.4 90.1,535.8 88.6,537.1C87,538.5 85.4,540.2 85.1,542.2C84.8,544.4 85.6,546.9 87,548.6C88.1,549.9 90.2,549.8 91.7,550.5"/>
<path class="t" d="M91.7,538.3C92.4,540.1 93.5,541.9 93.7,543.8C93.8,546 92.9,548 92.5,550.2"/>
<path class="p" d="M102.1,502.9C100.5,504.3 98.5,505.5 97.3,507.3C96.1,509.2 95.7,511.5 94.9,513.7"/>
<path class="p" d="M94.9,513.7L95.2,560"/>
<path class="t" d="M103.2,504.1C101.7,505.7 100,507 98.9,508.9C97.8,510.7 97.6,512.9 97,514.9"/>
<path class="t" d="M97,514.9L97.3,560"/>
<path class="p" d="M103.2,499.4L103.8,560"/>
<path class="p" d="M107.6,498.6L107.8,560"/>
<path class="p" d="M130.6,489.8C129,490.9 127,491.5 125.9,493C124.5,494.8 124.1,497.2 123.5,499.4C122.5,503.1 122.6,507.2 121.1,510.8C119.9,513.6 117.3,515.5 115.6,517.9C114.5,519.4 113.7,520.9 112.7,522.4"/>
<path class="p" d="M112.7,522.4L112.5,560"/>
<path class="p" d="M134.3,508.9C133.2,512.2 133,515.9 131.1,518.7C129.4,521.3 126,522.2 123.8,524.4C122.6,525.6 122.1,527.3 121.3,528.7"/>
<path class="p" d="M121.3,528.7L121.3,560"/>
<path class="p" d="M140.3,515.2C139.5,518 139.2,521 137.8,523.5C136.5,525.9 133.9,527.5 132.4,529.8C131.5,531.3 131.3,533 130.8,534.6"/>
<path class="p" d="M130.8,534.6L130.8,560"/>
<path class="t" d="M132.4,490.7C130.8,491.8 128.8,492.4 127.6,493.9C126.4,495.4 125.8,497.4 125.2,499.4C124.2,503.1 124.4,507.2 122.9,510.8C121.7,513.6 119.1,515.5 117.3,517.9C116.3,519.4 115.4,520.9 114.4,522.4"/>
<path class="t" d="M114.4,522.4L114.3,560"/>
<path class="t" d="M136,508.9C135,512.2 134.8,515.9 132.9,518.7C131.1,521.3 127.7,522.2 125.6,524.4C124.4,525.6 123.9,527.3 123,528.7"/>
<path class="t" d="M123,528.7L123,560"/>
<path class="t" d="M142.1,515.2C141.2,518 140.9,521 139.5,523.5C138.2,525.9 135.6,527.5 134.1,529.8C133.2,531.3 133.1,533 132.5,534.6"/>
<path class="t" d="M132.5,534.6L132.5,560"/>
<path class="p" d="M134.3,473.7L134.3,508.9"/>
<path class="t" d="M136.2,472.4L136,509.7"/>
<path class="p" d="M134.6,473.3C133,473.8 131.1,473.7 129.8,474.8C128.7,475.7 127.9,477.3 127.9,478.7C127.9,480.2 128.7,481.8 129.8,482.7C130.9,483.6 132.6,483.2 134,483.5"/>
<path class="p" d="M134.6,473.3L148.9,466.3"/>
<path class="p" d="M144.1,478.1C142.7,478.8 140.9,479.1 139.8,480.3C139,481.2 138.7,482.6 138.9,483.8C139,484.9 139.7,486.1 140.6,486.7C141.6,487.2 142.8,486.7 143.8,486.7"/>
<path class="p" d="M144.1,478.1L158.7,471.6"/>
<path class="p" d="M142.5,480.6L142.5,499.4"/>
<path class="t" d="M145.1,479.5L145.1,498.1"/>
<path class="t" d="M148.9,467.6L148.9,474"/>
<path class="t" d="M159.2,472.4L159.7,480.6"/>
<path class="t" d="M155.2,483L159.7,480.6L166.7,484.3"/>
<path class="t" d="M148.9,487.9L156,483.2L163.2,486.7"/>
<path class="t" d="M151.3,486.7C150.2,487.7 148.6,488.4 148.1,489.8C147.7,491.1 148,492.8 148.9,493.8C149.6,494.6 151,494.3 152.1,494.6"/>
<path class="t" d="M152.1,490.6L161.6,485.4"/>
<path class="p" d="M152.9,467.3C155.8,468.7 158.7,470.1 161.6,471.6C164.8,473.2 168,474.7 171.1,476.3C179.6,480.8 188.2,485.1 196.5,489.8C201.2,492.5 205.5,495.7 210,498.6"/>
<path class="t" d="M151.3,468.3C157.9,471.6 164.5,474.9 171.1,478.4C179.1,482.7 187.1,487 194.9,491.4C199.3,493.9 203.6,496.7 207.9,499.4"/>
<path class="p" d="M174.3,477.5C176.9,477.4 179.7,476.4 182.2,477.1C185.2,478 187.8,480.1 190.2,482.2C192.1,484 193.3,486.5 194.9,488.6"/>
<path class="p" d="M143.3,500.2L171.9,483M171.9,483C174.6,484 177.7,484 179.8,485.9C182.4,488.1 183.3,491.7 185.1,494.6 M156.8,523.2L178.7,511.3"/>
<ellipse class="w" cx="150.5" cy="511.3" rx="9.2" ry="12.4" transform="rotate(-15 150.5 511.3)"/>
<ellipse class="p" cx="150.8" cy="511.6" rx="4.8" ry="6.3" transform="rotate(-15 150.8 511.6)"/>
<path class="p" d="M150.8,528.3L155.2,529.8L179,517.1"/>
<path class="t" d="M150.8,524L150.8,528.3"/>
<path class="p" d="M151.3,529.8C149.7,530.3 147.8,530.1 146.5,531.1C144.8,532.5 143.2,534.5 142.9,536.7C142.6,538.6 143.5,540.9 144.9,542.2C146.1,543.3 148.1,542.8 149.7,543"/>
<path class="t" d="M149.2,531.9C149.9,533.8 151.1,535.5 151.3,537.5C151.4,539.2 150.5,540.8 150.2,542.5"/>
<path class="p" d="M151.3,541.4L171.9,531.1"/>
<path class="p" d="M140.2,536.7L140.5,560"/>
<path class="p" d="M146.5,543L146.8,560"/>
<path class="p" d="M179,499.4L194.9,492.4L194.6,499.4"/>
<path class="p" d="M179,499.4C178.8,503.6 178.6,507.8 178.3,512.1C177.5,520.5 175.2,529 175.9,537.5C176,539.7 179,540.6 180.6,542.2"/>
<path class="t" d="M181,500.2L180.3,515.2L178.3,536.7"/>
<path class="p" d="M187.8,504.4L202.9,497.8"/>
<path class="p" d="M187.8,504.4C187.5,509.1 187.4,513.8 187,518.4C186.2,527.9 185.1,537.5 184.1,547"/>
<path class="t" d="M189.8,504.9L188.9,519.2L186.2,545.4"/>
<path class="p" d="M196.8,508.9C196.5,515.2 196.8,521.7 195.7,527.9C195.1,531.8 193.6,535.6 191.7,539C190.1,542 187.5,544.3 185.4,547"/>
<path class="t" d="M198.9,509.7C198.5,516.3 198.9,523 197.8,529.5C197,533.7 195.4,537.7 193.3,541.4C191.7,544.3 189.1,546.4 187,548.9"/>
<path class="p" d="M169.5,523.2C169.3,525.8 168.4,528.5 168.7,531.1C169,533.4 169.5,535.9 171.1,537.5C172.2,538.6 174.3,538 175.9,538.3"/>
<path class="p" d="M171.9,521.6L172.2,560"/>
<path class="p" d="M176.7,545.4C176.1,547.5 175.1,549.6 175.1,551.7C175.1,554.5 176.1,557.2 176.7,560"/>
<path class="p" d="M180.6,550.2C181.4,551.7 182.7,553.2 183,554.9C183.3,556.6 182.5,558.3 182.2,560"/>
<path class="p" d="M185.1,548.6L185.4,560"/>
<path class="p" d="M191.7,560C192.3,557.8 192.2,555.3 193.3,553.3C194.2,551.9 196,551.2 197.3,550.2"/>
<path class="p" d="M200.5,505.7L229,487.5M229,487.5C231.9,488.4 235.4,488.2 237.5,490.3C240.4,493.3 241.4,497.8 242.9,501.7C243.7,504 243.7,506.5 244.1,508.9 M216.3,525.9L235.4,515.6L235.4,520.3"/>
<path class="t" d="M241,504.1L241.3,515.2"/>
<ellipse class="w" cx="206.8" cy="515.2" rx="8.7" ry="11.9" transform="rotate(-15 206.8 515.2)"/>
<ellipse class="p" cx="207.1" cy="515.5" rx="4.4" ry="6" transform="rotate(-15 207.1 515.5)"/>
<path class="p" d="M208.4,528.3L213.2,531.4L235.4,520.3"/>
<path class="p" d="M208.4,528.3C207.4,529.2 205.5,529.7 205.2,531.1C204.9,532.7 205.5,534.8 206.8,535.9C208.5,537.2 211.1,536.9 213.2,537.5"/>
<path class="p" d="M213.2,531.4L213.7,536.7L239.4,523.5"/>
<path class="p" d="M212.1,537.8L239.4,524"/>
<ellipse class="w" cx="205.2" cy="547.8" rx="9.5" ry="12.7" transform="rotate(-15 205.2 547.8)"/>
<ellipse class="p" cx="205.5" cy="548.1" rx="4.8" ry="6.7" transform="rotate(-15 205.5 548.1)"/>
<path class="p" d="M244.1,508.1L245.1,560"/>
<path class="p" d="M241.3,515.2L242.1,560"/>
<path class="p" d="M245.1,521.6C246.6,524.2 248.9,526.6 249.7,529.5C250.9,534.1 250.9,539 250.8,543.8C250.7,549.2 249.5,554.6 248.9,560"/>
<path class="p" d="M89.4,551.1L88.6,591.6L94.1,593.5L103.7,587.9"/>
<path class="p" d="M94.1,546.3C95.2,549.5 95.3,553.2 97.3,555.9C99,558.1 101.9,559.2 104.4,560.3C105.7,560.9 107.1,560.7 108.4,561"/>
<path class="t" d="M102.5,540C102.9,544.2 102.6,548.6 103.7,552.7C104.3,555.1 106.3,556.9 107.6,559"/>
<ellipse class="w" cx="113.2" cy="578.1" rx="8.7" ry="11.9" transform="rotate(-15 113.2 578.1)"/>
<ellipse class="p" cx="113.5" cy="578.4" rx="4.4" ry="6.3" transform="rotate(-15 113.5 578.4)"/>
<path class="p" d="M105.2,586L105.7,594.8L111.1,595.9L111.1,591.6"/>
<path class="p" d="M114,592.7L114.8,600.6L121.1,600.6L121.1,590.5"/>
<path class="t" d="M104.4,571.7C105.5,569.6 105.7,566.8 107.6,565.4C109.6,563.9 112.4,564.3 114.8,563.8"/>
<path class="p" d="M123.2,540C123.2,561.2 122.1,582.4 123.2,603.5C123.3,605.9 124.8,608.3 126.7,609.8C128,611 130.1,610.5 131.7,610.8"/>
<path class="p" d="M130.8,540C131,562.8 129.8,585.6 131.4,608.3C131.6,611.1 134,613.6 136.2,615.4C137.9,616.8 140.4,617.4 142.5,617.1C144.9,616.9 147.5,615.9 148.9,614C150.3,612 149.5,609.1 149.8,606.7"/>
<path class="t" d="M133,540C133.2,562.2 132.3,584.5 133.5,606.7C133.6,608.9 135.8,610.4 137,612.2"/>
<path class="p" d="M140.2,540C139.9,555.9 138.7,571.8 139.4,587.6C139.5,590 140.8,592.3 142.5,594C143.8,595.2 145.9,595 147.6,595.6"/>
<path class="p" d="M146.8,540L147.1,584.4"/>
<path class="p" d="M142.5,586.3L173,570.2L173.2,540"/>
<path class="t" d="M149.7,586.8L174.6,572.9"/>
<path class="p" d="M148.9,584.8C147.3,584.9 145.5,584.4 144.1,585.2C142.8,586.1 141.7,587.9 141.7,589.5C141.7,591.3 142.7,593.2 144.1,594.3C145.4,595.3 147.3,594.9 148.9,595.2"/>
<path class="t" d="M148.3,586C149.1,587.4 150.5,588.5 150.8,590C151.1,591.6 150.1,593.2 149.7,594.8"/>
<path class="p" d="M150.5,594.8L149.8,619.4L153.3,621.3L153.7,614.6"/>
<path class="p" d="M155.6,616.5L156.2,622.9L159.4,623.7L159.5,618.6"/>
<path class="p" d="M160.3,618.1L161,626.8L165.7,626.8L166,618.1"/>
<ellipse class="p" cx="159.2" cy="605.1" rx="4.8" ry="6.3" transform="rotate(-15 159.2 605.1)"/>
<path class="t" d="M149.7,600.3C150.4,603.5 150.1,607.1 151.7,609.8C153.2,612.2 156.2,613.2 158.4,614.9"/>
<path class="p" d="M156.8,586.8C157.5,585.5 157.5,583.7 158.7,582.9C165.1,578.7 172,575.3 179,572.5C179.8,572.2 180.3,573.6 181,574.1"/>
<path class="t" d="M157.6,587.6L157.8,600.3"/>
<path class="t" d="M159.7,586L179.4,575.2"/>
<path class="p" d="M184.6,586C184.4,584.7 185.4,581.8 184.1,582.1C179.3,583.2 175,586.1 171.1,589.2C169.1,590.8 168.5,593.7 167.1,595.9"/>
<path class="p" d="M167.1,595.9C167,606.9 165.6,617.9 166.7,628.9C167,631.9 169.1,634.6 171.1,636.8C172.1,637.9 174,637.9 175.4,638.4"/>
<path class="t" d="M169.5,594.8L169.5,632.1"/>
<path class="p" d="M187,587.6C184.9,588.8 182.3,589.4 180.6,591.1C178.5,593.3 177.5,596.4 175.9,599"/>
<path class="p" d="M175.9,599C176.1,611.1 174.9,623.3 176.7,635.2C177.1,638 179.8,640.2 182.2,641.6C184.2,642.7 186.8,642.6 188.9,641.9C190.4,641.4 191,639.6 192.1,638.4"/>
<path class="t" d="M178.3,597.1L178.7,636.8"/>
<path class="p" d="M202.9,579.7C197.6,582.4 191.9,584.6 187,587.9C185.4,589 184.9,591.1 183.8,592.7"/>
<path class="p" d="M183.8,592.7C183.9,601.1 183.2,609.5 184.1,617.8C184.3,619.2 185.7,620.4 187,621C188.5,621.6 190.4,621.2 192.1,621.3"/>
<path class="p" d="M176.7,543.2C175.9,547.4 173.9,551.6 174.3,555.9C174.7,560.9 176.6,565.8 179,570.2C180.9,573.4 183.6,576.5 187,578.1C189.9,579.5 193.5,579.5 196.5,578.4C198.4,577.7 198.8,575 200,573.3"/>
<path class="p" d="M181,547.9C180.3,551.6 178.6,555.3 179,559C179.6,563 181.2,567.1 183.8,570.2C185.8,572.5 189.3,572.9 192.1,574.3"/>
<path class="t" d="M185.4,549.5C184.6,552.2 182.9,554.7 183,557.5C183.2,560.8 184.4,564.2 186.2,567C187.4,568.9 189.9,569.6 191.7,571"/>
<path class="t" d="M180.2,574.1L180.2,584.4"/>
<path class="p" d="M195.2,554.3C194.1,555.9 192.1,557.1 191.7,559C191.1,562.7 190.8,566.9 192.5,570.2C193.5,572 196.5,571.4 198.4,572.1"/>
<ellipse class="p" cx="203.7" cy="564.6" rx="4.4" ry="5.4" transform="rotate(-15 203.7 564.6)"/>
<path class="p" d="M215.6,559.4L237.8,547.5"/>
<path class="p" d="M216.3,559.4L216.5,571.1L220.6,574.3L237.5,565.7"/>
<path class="t" d="M237.5,547.5L237.5,565.7"/>
<path class="t" d="M194.9,572.5L214.8,568.6"/>
<path class="p" d="M220.6,575.9L234.3,569.5M234.3,569.5C235.9,571.7 238.1,573.6 239,576.2C239.9,578.4 239.3,580.8 239.4,583.2 M222.2,595.9L239.4,586.3"/>
<ellipse class="w" cx="213.2" cy="586" rx="9.2" ry="11.9" transform="rotate(-15 213.2 586)"/>
<ellipse class="p" cx="213.5" cy="586.3" rx="4.4" ry="6" transform="rotate(-15 213.5 586.3)"/>
<path class="p" d="M203.7,589.2C200.8,590.8 197.3,591.5 195.2,594C193,596.7 192.9,600.5 191.7,603.8"/>
<path class="p" d="M191.7,603.8L192.1,622.9"/>
<path class="t" d="M206,592.4C203.4,594 200,594.7 198.1,597.1C196,599.8 196,603.5 194.9,606.7"/>
<path class="p" d="M194.9,610.2L217.5,598.7"/>
<path class="p" d="M203.7,619.7L210.3,616.5"/>
<ellipse class="w" cx="197.8" cy="615.4" rx="4.4" ry="5.4" transform="rotate(-15 197.8 615.4)"/>
<ellipse class="p" cx="198.1" cy="615.7" rx="2.2" ry="2.9" transform="rotate(-15 198.1 615.7)"/>
<path class="p" d="M194.9,624.1C194.3,626.8 193.1,629.3 193,632.1C193,635.4 193.3,638.9 194.6,641.9C195.7,644.5 197.6,646.8 200,648.3C202.3,649.6 205.3,649.3 207.9,649.8"/>
<ellipse class="p" cx="202.1" cy="636.8" rx="4.8" ry="6.7" transform="rotate(-15 202.1 636.8)"/>
<path class="t" d="M199.7,622.5C200.2,623.9 200.2,625.5 201.3,626.5C203.3,628.3 206,629.2 208.4,630.5"/>
<path class="t" d="M194.9,643.2L195.2,646L208.4,651.1"/>
<path class="p" d="M210,616.5C210.5,614.3 210.5,611.8 211.6,609.8C212.9,607.5 214.9,605.4 217.1,603.8C223.4,599.4 230.4,595.9 237,591.9L237.5,651.1C231.9,654.6 226.6,658.6 220.6,661.4C218.9,662.3 216.5,662.7 214.8,661.7C212.7,660.6 212.1,657.8 210.8,655.9"/>
<path class="w" d="M210,616.5C210.5,614.3 210.5,611.8 211.6,609.8C212.9,607.5 214.9,605.4 217.1,603.8C223.4,599.4 230.4,595.9 237,591.9L237.5,651.1C231.9,654.6 226.6,658.6 220.6,661.4C218.9,662.3 216.5,662.7 214.8,661.7C212.7,660.6 212.1,657.8 210.8,655.9L210,616.5Z"/>
<path class="t" d="M212.4,617.8C212.8,615.8 212.7,613.6 213.7,611.7C214.8,609.5 216.4,607.4 218.4,605.9C223.7,601.9 229.7,599 235.4,595.6"/>
<path class="p" d="M239.4,583.2L239.4,653.7L244.1,653.7L245.1,540"/>
<path class="t" d="M242.1,540L241.7,653.7"/>
<path class="p" d="M248.6,540C248,547.9 247.7,555.9 247,563.8C246.5,569.1 245.7,574.4 245.1,579.7"/>
<!-- elbow 635 -->
<path class="p" d="M73.8,723.8C73.7,728.3 73.4,732.8 73.4,737.3C73.4,741.8 73.7,746.3 73.8,750.8 M107.5,722.7C111.2,725.3 115.7,727.2 118.7,730.6C121.5,733.7 123.2,737.8 124.6,741.8C125.5,744.6 125.1,747.8 125.4,750.8M125.4,750.8L98.5,769.2"/>
<path class="p" d="M78.8,686.8C78.8,693.9 79.7,701.1 78.8,708.1C78.4,711 75.8,713.2 75,716C74.2,718.5 74.2,721.2 73.8,723.8 M104.8,686.8C104.8,693.9 104.4,701.1 104.8,708.1C105,710.5 106.2,712.6 106.6,714.9C107.1,717.5 107.2,720.1 107.5,722.7"/>
<path class="p" d="M79.0,708.6 A12.8,5.4 0 0 0 104.6,708.6"/>
<path class="p" d="M74.3,722.7 A16.8,6.7 0 0 0 107.5,723.4"/>
<ellipse class="w" cx="91.8" cy="686.8" rx="13" ry="7.4"/>
<ellipse class="p" cx="91.8" cy="687.3" rx="10.1" ry="5.4"/>
<path class="p" d="M87.3,692L96.3,692" stroke="#555" stroke-width="1.5"/>
<ellipse class="w" cx="86.9" cy="756.4" rx="13" ry="15.3" transform="rotate(-20 86.9 756.4)"/>
<path class="p" d="M76.5,740.7C80.1,739.3 83.5,736 87.3,736.6C91.4,737.3 95.1,740.5 97.4,744C99.9,747.9 100.8,752.9 100.8,757.5C100.8,761.5 98.5,765.3 97.4,769.2"/>
<path class="t" d="M109.7,723.8L109.7,742.9M109.7,735.1L112.4,736.6"/>
<!-- spark plug 337 -->
<g transform="translate(39.5 852.5) rotate(-29)" class="w">
<path d="M109.0,-12.5 L85.0,-12.5 A6.9,12.5 0 0 0 85.0,12.5 L109.0,12.5 A6.9,12.5 0 0 0 109.0,-12.5 Z"/><ellipse cx="85.0" cy="0" rx="6.9" ry="12.5"/>
<path class="p" d="M86.5,-12.5 A6.9,12.5 0 0 1 86.5,12.5"/>
<path class="p" d="M89.1,-12.5 A6.9,12.5 0 0 1 89.1,12.5"/>
<path class="p" d="M91.7,-12.5 A6.9,12.5 0 0 1 91.7,12.5"/>
<path class="p" d="M94.3,-12.5 A6.9,12.5 0 0 1 94.3,12.5"/>
<path class="p" d="M96.9,-12.5 A6.9,12.5 0 0 1 96.9,12.5"/>
<path class="p" d="M99.5,-12.5 A6.9,12.5 0 0 1 99.5,12.5"/>
<path class="p" d="M102.1,-12.5 A6.9,12.5 0 0 1 102.1,12.5"/>
<path class="p" d="M104.7,-12.5 A6.9,12.5 0 0 1 104.7,12.5"/>
<path class="p" d="M107.3,-12.5 A6.9,12.5 0 0 1 107.3,12.5"/>
<path d="M86.0,-16.0 L70.0,-16.0 A8.8,16.0 0 0 0 70.0,16.0 L86.0,16.0 A8.8,16.0 0 0 0 86.0,-16.0 Z"/><ellipse cx="70.0" cy="0" rx="8.8" ry="16.0"/>
<path class="p" d="M74.0,-16.0 A8.8,16.0 0 0 1 74.0,16.0"/>
<path class="p" d="M79.0,-16.0 A8.8,16.0 0 0 1 79.0,16.0"/>
<path d="M63.6,6.3 L55.8,18.2 L71.8,18.2 L79.6,6.3 Z"/>
<path d="M55.8,18.2 L46.2,11.9 L62.2,11.9 L71.8,18.2 Z"/>
<path d="M46.2,11.9 L44.4,-6.3 L60.4,-6.3 L62.2,11.9 Z"/>
<path d="M44.4,-6.3 L52.2,-18.2 L68.2,-18.2 L60.4,-6.3 Z"/>
<path d="M52.2,-18.2 L61.8,-11.9 L77.8,-11.9 L68.2,-18.2 Z"/>
<path d="M61.8,-11.9 L63.6,6.3 L79.6,6.3 L77.8,-11.9 Z"/>
<path d="M63.6,6.3 L55.8,18.2 L46.2,11.9 L44.4,-6.3 L52.2,-18.2 L61.8,-11.9 Z"/>
<ellipse cx="54.5" cy="0" rx="8.0" ry="14.5"/>
<path d="M54.0,-13.0 L47.0,-13.0 A7.2,13.0 0 0 0 47.0,13.0 L54.0,13.0 A7.2,13.0 0 0 0 54.0,-13.0 Z"/><ellipse cx="47.0" cy="0" rx="7.2" ry="13.0"/>
<path d="M47.0,-10.5 L42.0,-10.5 A5.8,10.5 0 0 0 42.0,10.5 L47.0,10.5 A5.8,10.5 0 0 0 47.0,-10.5 Z"/><ellipse cx="42.0" cy="0" rx="5.8" ry="10.5"/>
<path d="M42.0,-8.6 L21.0,-7.0 A3.9,7.0 0 0 0 21.0,7.0 L42.0,8.6 A4.7,8.6 0 0 0 42.0,-8.6 Z"/><ellipse cx="21.0" cy="0" rx="3.9" ry="7.0"/>
<path class="p" d="M27.0,-7.4 A4.1,7.4 0 0 1 27.0,7.4"/>
<path class="p" d="M33.0,-7.9 A4.3,7.9 0 0 1 33.0,7.9"/>
<path class="p" d="M38.0,-8.3 A4.6,8.3 0 0 1 38.0,8.3"/>
<path d="M21.0,-7.0 L14.0,-7.0 A3.9,7.0 0 0 0 14.0,7.0 L21.0,7.0 A3.9,7.0 0 0 0 21.0,-7.0 Z"/><ellipse cx="14.0" cy="0" rx="3.9" ry="7.0"/>
<path d="M14.0,-5.4 L10.0,-5.4 A3.0,5.4 0 0 0 10.0,5.4 L14.0,5.4 A3.0,5.4 0 0 0 14.0,-5.4 Z"/><ellipse cx="10.0" cy="0" rx="3.0" ry="5.4"/>
<path d="M10.0,-7.5 L0.0,-7.5 A4.1,7.5 0 0 0 0.0,7.5 L10.0,7.5 A4.1,7.5 0 0 0 10.0,-7.5 Z"/><ellipse cx="0.0" cy="0" rx="4.1" ry="7.5"/>
</g>
<path class="w" d="M129.2,791.9L135.4,788.1L141.8,791.9L141.8,803.8L138.7,805L138.3,795.7L133.5,798.1"/>
<path class="t" d="M135.4,788.1L138.3,795.7"/>
<!-- wrench 383 -->
<path class="w" d="M299,783.2L318.7,770.2L330.2,776.2L334.1,789.1L331.7,795.8L313,807.6L308.8,809.5L294.8,785.6Z"/>
<path class="p" d="M330.2,776.2L310.9,788L313.7,801.7L334.1,789.1M310.9,788L299,783.2M313.7,801.7L313,807.6"/>
<ellipse class="p" cx="318" cy="776.8" rx="3.9" ry="2.4" transform="rotate(-8 318 776.8)"/>
<path class="t" d="M314.6,778.0 a3.6,2 -8 0 1 7,-0.6"/>
<path class="p" d="M247.1,812.3L292,787 M262.5,836.8L308.8,809.5"/>
<path class="w" d="M294.8,785.6C297.6,787.7 301,789.2 303.2,791.9C305.6,794.7 307,798.3 308.1,801.7C308.9,804.2 308.6,806.9 308.8,809.5"/>
<path class="p" d="M299,783.2C301.8,785.6 305.2,787.4 307.4,790.2C309.7,793.2 311.2,796.8 312.3,800.3C313.1,802.7 312.8,805.2 313,807.6"/>
<path class="p" d="M247.1,812.3C249.4,814.4 252.1,816.1 254.1,818.6C256.2,821.1 257.8,824 259,827C260.3,830.2 260.6,833.7 261.4,837.1"/>
<path class="p" d="M252,809.9C254.3,812.1 257.2,813.9 259,816.5C261,819.2 262.2,822.4 263.2,825.6C264.2,828.8 264.4,832.1 265.1,835.4"/>
<path class="w" d="M224.6,825.6L242.2,816.5L247.1,812.3L254.1,818.6L259,827L261.4,837.1L255.5,839.9L232.4,852.3L221.8,847.3L217.6,834Z"/>
<path class="p" d="M217.6,834L224.6,825.6L235.2,829.8L238,842.4L232.4,852.3L221.8,847.3ZM235.2,829.8L252,822.1L256.2,832.9L238,842.4M256.2,832.9L255.5,839.9M252,822.1L247.1,814.4"/>
<path class="t" d="M219.7,834.7L225.3,828.1L233.8,831.5L235.9,842.2L231.7,849.7L223,845.5Z"/>
<path class="p" d="M228.9,829.8L228.2,850.9"/>
<path class="p" d="M228.2,850.9C228.2,852.3 227.5,854 228.2,855.3C228.6,856.3 229.9,856.7 231,856.7C232,856.7 233.3,856.3 233.9,855.3C234.5,854.5 233.9,853.3 233.9,852.3"/>
<path class="w" d="M229.6,828.4C229.6,825.1 229.3,821.8 229.7,818.6C230.1,815.3 230.4,811.9 231.7,808.8C232.8,805.9 234.5,803.3 236.6,801C238.3,799.2 240.8,798.2 242.9,796.8L336.9,749.1C337.9,749.7 339.5,749.9 340,750.9C340.6,752.1 339.8,753.5 339.7,754.7L245.7,803.8C243.8,805.6 241.5,806.9 240.1,809C238.6,811.2 237.7,813.9 237.3,816.5C236.6,820.4 236.8,824.4 236.6,828.4Z" stroke-dasharray="none"/>
<path class="t" d="M242.6,802C241.5,803.3 240.2,804.4 239.4,805.9C238.7,807.2 238.7,808.8 238.4,810.2"/>
<!-- tube 50 -->
<path class="p" d="M389.2,609.8C385.8,611.4 381.7,612 379.1,614.7C376.1,617.7 373.9,621.8 373,625.9C372.3,629.3 374.1,632.7 374.6,636L504.1,711.8"/>
<path class="p" d="M389.2,609.8L508.8,680.0C513.9,682.7 518.8,686.1 524.2,688.2C528.3,689.9 532.9,689.9 537.1,691.2C540.4,692.2 543.7,693.4 546.5,695.3C550,697.6 552.8,700.8 556,703.6C557.1,704.6 558.1,705.8 559.5,706.5C561.3,707.4 563.4,707.8 565.4,708.3C567.7,708.8 570.1,708.9 572.4,709.4C574.1,709.9 575.8,710.2 577.2,711.2C578,711.9 578.1,713.2 578.6,714.2C577.1,724 576.5,733.9 574.2,743.6C574,744.7 572.4,745.2 571.3,745.4C569.3,745.6 567.3,745.1 565.4,744.8C563.8,744.5 562.3,743.9 560.7,743.6C558.3,743.1 556,742.3 553.6,742.4C551.9,742.5 550.6,744 548.9,744.2C545,744.6 541,744.9 537.1,744.2C533.7,743.5 530.7,741.8 527.7,740.1C525.9,739 524.7,737.1 523,735.9C521.9,735.3 520.7,735 519.4,734.8C517.5,734.4 515.5,734.1 513.6,734.2C511.9,734.3 510.5,735.4 508.8,735.4C506.8,735.4 504.8,735 503,734.2C502.1,733.8 501.1,732.8 501.2,731.8C502.1,722.3 503.9,712.9 505.9,703.6C506.1,702.6 507.2,702.1 507.7,701.2C508.8,699.3 509.8,697.3 510.6,695.3C511,694.4 511,693.3 511.2,692.4"/>
<path class="p" d="M511.2,692.4C513.2,693.3 515.3,694 517.1,695.3C518.9,696.6 520.5,698.2 521.8,700C522.9,701.6 522.7,704 524.2,705.3C525.4,706.4 527.3,706.1 528.9,706.5"/>
<ellipse class="p" cx="514.7" cy="704.1" rx="4.9" ry="2.6" transform="rotate(5 514.7 704.1)"/>
<ellipse class="p" cx="571.3" cy="712.7" rx="4.9" ry="2.6" transform="rotate(5 571.3 712.7)"/>
<path class="t" d="M510.6,705C512,705.4 513.3,706.1 514.7,706.1C516.3,706.1 517.7,705.4 519.2,705"/>
<path class="t" d="M567.1,713.6C568.5,714 569.8,714.7 571.3,714.7C572.8,714.7 574.3,714 575.7,713.6"/>
<path class="p" d="M505.9,703.6C506.9,704.5 507.5,706.1 508.8,706.5C511.8,707.5 515.1,707.8 518.3,707.7C520.3,707.6 522.2,706.5 524.2,705.9"/>
<path class="p" d="M524.2,705.9C525.7,706.7 527.2,707.6 528.9,708.3C531.6,709.4 534.3,710.6 537.1,711.2C540.2,711.8 543.4,711.8 546.5,711.8C548.5,711.8 550.5,711.1 552.4,711.2C553.3,711.3 554,712 554.8,712.4"/>
<path class="p" d="M548.9,714.2C551.2,714.4 553.6,714.6 556,714.7C559.1,715 562.2,715.1 565.4,715.3C567.7,715.5 570.1,716.1 572.4,715.9C574.3,715.7 576,714.7 577.8,714.2"/>
<path class="p" d="M513.6,716.5C517.1,716.5 520.7,715.7 524.2,716.5C528.7,717.5 532.6,720.7 537.1,721.8C540.2,722.5 543.4,722.4 546.5,721.8C549,721.4 551.3,719.9 553.6,718.9C554.4,718.5 555.2,718.1 556,717.7"/>
<path class="p" d="M518.3,717.7L515.3,733M524.2,718.9L521.2,733.6M554.2,723.6L550.1,738.9M557.7,725.9L554.8,741.2M561.3,727.1L558.3,740.1"/>
<path class="t" d="M554.8,723.6L559.5,719.5L564.8,723.6L558.9,725.3ZM520,715.3L521.8,710.9L523.6,715.3"/>
<path class="t" d="M513.6,734.2L523.6,735.4M548.9,740.1L554.2,742.4"/>
<!-- gasket 51 -->
<path class="w" d="M493.5,754.1C493.4,753.1 494.4,752 495.3,751.5C496.9,750.7 498.8,750.6 500.6,750.6C503,750.5 505.4,750.7 507.7,751.2C511.7,752.1 515.5,753.7 519.4,754.7C522.5,755.5 525.7,755.8 528.9,756.5C532.4,757.2 536.1,757.6 539.5,758.8C542.8,760 545.9,761.7 548.9,763.5C551.4,765.1 553.3,767.6 556,768.9C558.1,769.8 560.8,769.3 563,770C564.9,770.7 567,771.4 568.3,773C569.2,774 569.7,775.8 569.2,777.1C568.5,778.4 566.8,779.1 565.4,779.5C563.1,780 560.6,779.9 558.3,779.5C555.8,778.9 553.8,776.6 551.2,776.5C548,776.4 545,778.5 541.8,778.9C538.3,779.3 534.7,779.4 531.2,778.9C527.2,778.2 523.2,776.9 519.4,775.3C516.1,773.9 512.8,772.3 510,770C508,768.3 506.9,765.7 505.3,763.5C504.1,762 503.4,759.9 501.8,758.8C500.1,757.8 497.6,758.7 495.9,757.7C494.7,757 493.7,755.5 493.5,754.1Z"/>
<path class="w" d="M493.5,753C493.4,752 494.4,750.9 495.3,750.4C496.9,749.6 498.8,749.5 500.6,749.5C503,749.4 505.4,749.6 507.7,750.1C511.7,751 515.5,752.6 519.4,753.6C522.5,754.4 525.7,754.7 528.9,755.4C532.4,756.1 536.1,756.5 539.5,757.7C542.8,758.9 545.9,760.6 548.9,762.4C551.4,764 553.3,766.5 556,767.8C558.1,768.7 560.8,768.2 563,768.9C564.9,769.6 567,770.3 568.3,771.9C569.2,772.9 569.7,774.7 569.2,776C568.5,777.3 566.8,778 565.4,778.4C563.1,778.9 560.6,778.8 558.3,778.4C555.8,777.8 553.8,775.5 551.2,775.4C548,775.3 545,777.4 541.8,777.8C538.3,778.2 534.7,778.3 531.2,777.8C527.2,777.1 523.2,775.8 519.4,774.2C516.1,772.8 512.8,771.2 510,768.9C508,767.2 506.9,764.6 505.3,762.4C504.1,760.9 503.4,758.8 501.8,757.7C500.1,756.7 497.6,757.6 495.9,756.6C494.7,755.9 493.7,754.4 493.5,753Z"/>
<ellipse class="p" cx="530" cy="765.4" rx="18.3" ry="7.8" transform="rotate(8 530 765.4)"/>
<ellipse class="t" cx="530" cy="765.8" rx="16.8" ry="6.6" transform="rotate(8 530 765.8)"/>
<ellipse class="p" cx="503.2" cy="753" rx="3.5" ry="1.6" transform="rotate(8 503.2 753)"/>
<ellipse class="p" cx="560.1" cy="772.5" rx="3.5" ry="1.6" transform="rotate(8 560.1 772.5)"/>
<!-- bolt 54 -->
<path class="w" d="M536.8,631.2L529.9,667.7M529.9,667.7C531.4,668.3 532.9,669.3 534.6,669.5C537,669.8 539.5,669.2 541.9,669.1M541.9,669.1L547.7,633.4"/>
<path class="p" d="M536.2,634.5C538,635.1 539.8,636.2 541.7,636.5C543.5,636.8 545.3,636.2 547.2,636.1M535.5,638.1C537.3,638.8 539.1,639.9 541,640.1C542.8,640.4 544.6,639.9 546.5,639.7M534.8,641.8C536.6,642.4 538.4,643.5 540.3,643.8C542.1,644.1 543.9,643.5 545.8,643.4M534.1,645.4C535.9,646.1 537.7,647.2 539.6,647.4C541.4,647.7 543.2,647.2 545.1,647M533.4,649.1C535.3,649.7 537,650.8 538.9,651.1C540.7,651.4 542.6,650.8 544.4,650.7M532.7,652.7C534.6,653.4 536.3,654.5 538.2,654.7C540,655 541.9,654.5 543.7,654.3M532,656.4C533.9,657 535.6,658.1 537.5,658.4C539.3,658.7 541.2,658.1 543,658M531.4,660C533.2,660.7 534.9,661.8 536.8,662C538.6,662.3 540.5,661.8 542.3,661.6M530.7,663.6C532.5,664.3 534.2,665.4 536.1,665.7C537.9,666 539.8,665.4 541.6,665.3M530,667.3C531.8,668 533.5,669.1 535.4,669.3C537.2,669.6 539.1,669.1 540.9,668.9" stroke-width="1.4"/>
<ellipse class="w" cx="542.4" cy="628.6" rx="12" ry="3.3" transform="rotate(10 542.4 628.6)"/>
<ellipse class="w" cx="542.4" cy="627.5" rx="12" ry="3.3" transform="rotate(10 542.4 627.5)"/>
<path class="w" d="M534.6,618.8L543.4,619.3L552.8,622.4L553.2,625L549.9,628.6L540.1,627.2L534.2,625Z"/>
<path class="p" d="M534.6,618.8L540.4,622.6L552.8,622.4M540.4,622.6L540.1,627.2M549.9,624.2L549.9,628.6"/>
<!-- shield 306 -->
<path class="w" d="M673.7,459.8L717.1,436.6L718.4,445.1L739,433.5L740.8,435.3L740.8,456L736.5,463.7L737.2,466.3L747.5,460.6L749.9,462.4C750,479.2 749.6,496 750.1,512.7C750.3,517.1 750.7,521.5 751.9,525.6C753.5,531 755.7,536.2 758.4,541.1C762.2,548.3 766.3,555.4 771.3,561.8C775.8,567.5 781.2,572.5 786.8,577.3C792.4,582 798.5,586.4 804.8,590.2C813.1,595 822,598.8 830.6,603.1L831.9,605.6L751.9,651.6C751.1,651.3 750.1,651.3 749.4,650.8C741,645.4 732.9,639.7 724.8,634C717,628.5 709.1,623.2 701.6,617.3C696.1,612.9 690.7,608.3 686.1,603.1C682.1,598.4 678.5,593.2 675.8,587.6C673.1,581.9 671.3,575.7 670.1,569.5C668.9,562.7 668.7,555.8 668.6,548.9C668.2,533.4 668.6,517.9 668.6,502.4L673.2,494.7L673.7,459.8Z"/>
<path class="p" d="M673.2,494.7C671.7,497.3 668.8,499.4 668.6,502.4C667.3,517.8 668.2,533.4 668.6,548.9C668.7,555.8 668.9,562.7 670.1,569.5C671.3,575.7 673.1,581.9 675.8,587.6C678.5,593.2 682.1,598.4 686.1,603.1C690.7,608.3 696.1,612.9 701.6,617.3C709.1,623.2 717,628.5 724.8,634C732.9,639.7 741,645.4 749.4,650.8C750.1,651.3 751.1,651.3 751.9,651.6" stroke-width="1.8"/>
<path class="p" d="M673.7,459.8L717.1,436.6M718.4,445.1L739,433.5" stroke-width="1.6"/>
<ellipse class="p" cx="685.6" cy="467.6" rx="4.9" ry="7" transform="rotate(25 685.6 467.6)"/>
<path class="p" d="M679.7,488.2L735.2,458M675.8,499.8L730,468.9"/>
<path class="p" d="M686.1,550.2C687.2,556.6 687.1,563.3 689.2,569.5C691.7,576.8 695,584 699.5,590.2C705.3,597.9 713,603.9 719.7,610.8L722.0,610.0C715.3,603.2 707.6,597.1 701.9,589.4C697.3,583.2 694,576 691.5,568.7C689.5,562.5 689.5,555.8 688.5,549.4Z"/>
<path class="p" d="M726.6,526.2C727.9,532 728.4,538.1 730.5,543.7C733.2,550.9 736.5,558 740.8,564.4C746.7,572.8 754.3,579.8 761,587.6L763.3,586.8C756.6,579.1 749,572 743.2,563.6C738.8,557.3 735.5,550.1 732.8,542.9C730.8,537.3 730.3,531.2 729,525.4Z"/>
<path class="p" d="M684.8,588.9L690,586.3M708.1,576L728.7,565.6M744.2,556.1L755.8,550.2"/>
<ellipse class="p" cx="763.5" cy="632.7" rx="5.7" ry="3.6" transform="rotate(-5 763.5 632.7)"/>
<!-- screw 307 -->
<ellipse class="w" cx="774" cy="684.6" rx="9.9" ry="4.6"/>
<path class="w" d="M766.2,688L766.2,692L771,694.6L779,694.4L781.8,691L781.8,688.3"/>
<ellipse class="w" cx="774" cy="684.6" rx="9.9" ry="4.6"/>
<path class="p" d="M771.6,690.1L771.6,694.3M779,690L779,694.4"/>
<path class="w" d="M769.4,685.2L769.4,664.5C770,663.8 770.3,662.8 771,662.3C771.9,661.7 773,661.4 774.1,661.4C775.2,661.4 776.5,661.7 777.5,662.3C778.2,662.8 778.5,663.8 779,664.5L779,685.2C777.4,685.8 775.9,687 774.2,687C772.5,687 771,685.8 769.4,685.2"/>
<path class="p" d="M769.4,665.1C771,665.7 772.5,666.9 774.2,666.9C775.9,666.9 777.4,665.7 779,665.1M769.4,667.6C771,668.2 772.5,669.3 774.2,669.3C775.9,669.3 777.4,668.2 779,667.6M769.4,670.1C771,670.6 772.5,671.8 774.2,671.8C775.9,671.8 777.4,670.6 779,670.1M769.4,672.5C771,673.1 772.5,674.3 774.2,674.3C775.9,674.3 777.4,673.1 779,672.5M769.4,675C771,675.6 772.5,676.7 774.2,676.7C775.9,676.7 777.4,675.6 779,675M769.4,677.5C771,678 772.5,679.2 774.2,679.2C775.9,679.2 777.4,678 779,677.5M769.4,679.9C771,680.5 772.5,681.7 774.2,681.7C775.9,681.7 777.4,680.5 779,679.9M769.4,682.4C771,683 772.5,684.1 774.2,684.1C775.9,684.1 777.4,683 779,682.4M769.4,684.9C771,685.5 772.5,686.6 774.2,686.6C775.9,686.6 777.4,685.5 779,684.9" stroke-width="1.4"/>
<!-- engine block - zone A/B top -->
<path class="p" d="M574,131.8C576.9,131.2 579.8,130.7 582.7,130.1"/>
<path class="p" d="M582.7,130.1C585.3,123.1 588.1,116.2 590.6,109.1C591.3,106.9 591.7,104.5 592.3,102.1"/>
<path class="p" d="M582.7,130.1C583.9,134.2 584.3,138.5 586.2,142.3C588.4,146.8 591.5,150.8 594.9,154.5C598,157.9 601.6,160.8 605.4,163.3C609.8,166.1 614.7,167.9 619.4,170.2"/>
<path class="p" d="M560,168.5C564.7,166.2 569,162.9 574,161.5C579.6,159.9 585.7,158.7 591.4,159.8C598.9,161.1 605.6,165.1 612.4,168.5C615,169.8 617,172 619.4,173.7"/>
<path class="p" d="M591.4,95.2C589.7,96.3 587.5,97 586.2,98.7C582.8,102.9 579.8,107.6 577.5,112.6C575.7,116.5 575,120.7 574,124.8C573.5,126.7 573.4,128.6 573.1,130.4"/>
<path class="p" d="M608,92.5C610.1,90.8 611.7,88.4 614.1,87.3C616.3,86.3 618.8,85.9 621.1,86.4C622.7,86.8 623.7,88.5 625,89.6"/>
<path class="p" d="M592.3,102.1C591.7,101 590.6,100 590.6,98.7C590.6,96.8 591,94.7 592.3,93.4C593.6,92.1 595.7,91.3 597.5,91.3C600,91.4 602.3,92.6 604.5,93.8C605.9,94.5 606.5,96.4 608,96.9C610.5,97.8 613.3,97.5 615.9,97.8C618.8,98.1 621.7,98.4 624.6,98.7"/>
<ellipse class="p" cx="598.1" cy="97.4" rx="4.9" ry="3.5" transform="rotate(5 598.1 97.4)"/>
<path class="p" d="M624.6,92.5L625,114.4"/>
<path class="p" d="M684,92.5L683.1,104.2"/>
<ellipse class="w" cx="654.3" cy="92.5" rx="29.7" ry="17.5"/>
<ellipse class="p" cx="654.3" cy="92.5" rx="25.3" ry="14"/>
<ellipse class="p" cx="655.2" cy="96.9" rx="18.3" ry="10.1"/>
<ellipse class="p" cx="655.2" cy="99.5" rx="15.4" ry="8.4"/>
<path class="t" d="M668.3,77.7L689.2,78.6L696.2,77.7"/>
<path class="p" d="M615.9,103C616.3,104.5 617,105.9 617.3,107.4C617.6,109.7 616.9,112.2 617.6,114.4C618.5,117 620.1,119.3 622,121.3C625.4,125.2 629.5,128.4 633.3,131.8C656.5,152.3 680,172.4 703.2,192.9C704.3,194 705.8,194.9 706.3,196.4C706.8,197.8 706.6,199.6 705.8,200.8C704.8,202.2 703.1,203.1 701.4,203.4C699.7,203.7 697.6,203.6 696.2,202.5C670,182 644.6,160.4 619.4,138.8C614.4,134.5 609.3,130.2 605.4,124.8C603.2,121.8 602.4,118 601.6,114.4C601.1,112.1 601.1,109.7 601.6,107.4C601.8,105.9 602.3,104 603.7,103.5C607.6,102.4 611.8,103.2 615.9,103Z"/>
<path class="p" d="M592.3,102.1C593.2,106.2 593.5,110.5 594.9,114.4C596.7,119.3 598.7,124.2 601.9,128.3C606.4,134.2 612.2,139 617.6,144C619.9,146.2 622.5,148.1 625,150.2"/>
<path class="p" d="M625,150.2L621.1,159.8"/>
<path class="p" d="M625,114.4C638.2,126.3 651.8,137.9 664.8,150.2C666.1,151.5 666.9,153.3 667.9,154.9"/>
<path class="t" d="M617.6,115.2L665.6,153.7"/>
<ellipse class="p" cx="630.7" cy="158.9" rx="4.9" ry="3.5" transform="rotate(5 630.7 158.9)"/>
<ellipse class="p" cx="671.7" cy="157.1" rx="4.9" ry="3.5" transform="rotate(5 671.7 157.1)"/>
<ellipse class="p" cx="715.4" cy="204.3" rx="4.4" ry="3.1" transform="rotate(5 715.4 204.3)"/>
<path class="t" d="M624.6,154.5C625.2,153.6 626.2,152.9 627.2,152.8C629.3,152.6 631.5,152.7 633.3,153.7C635,154.5 636.4,156.2 636.8,158C637.2,159.5 636.6,161.4 635.4,162.4C634,163.7 631.8,164.1 629.8,164.1C628.1,164.1 626.3,163.5 625,162.4C623.9,161.6 623.3,160.2 623.2,158.9C623.1,157.4 623.8,155.8 624.6,154.5Z"/>
<path class="p" d="M664.8,152.8C666.2,152.1 667.5,150.8 669.1,150.7C671.2,150.5 673.4,150.9 675.2,151.9C676.9,152.9 678,154.7 679.1,156.3C679.8,157.3 680,158.6 680.5,159.8"/>
<path class="p" d="M680.5,159.8C681.1,161.2 681.2,163 682.2,164.1C693.5,176.4 705.2,188.3 717.1,199.9C719.2,202 721.8,203.4 724.1,205.2"/>
<path class="p" d="M636.8,163.3L697.9,210.4"/>
<path class="t" d="M635.4,166.7L692.7,210.4"/>
<path class="p" d="M621.1,159.8L618,182.5L626.3,185.1L636.8,166.7"/>
<path class="p" d="M616.7,106.1L616.7,134.7"/>
<path class="p" d="M627.6,184.4L637.7,181L653.7,193.1L656.6,204.6C653.1,206.8 649.5,208.8 646.1,211.3C644.5,212.5 643.3,214.1 641.9,215.5"/>
<path class="p" d="M627.6,185.2C630.1,190.5 632.7,195.9 635.2,201.2C637.4,206 639.7,210.7 641.9,215.5"/>
<path class="p" d="M641.9,215.5C646.1,218 650.3,220.5 654.6,223.1"/>
<path class="p" d="M646.1,211.3C648.9,209.7 651.4,207.1 654.6,206.6C657.9,206 661.6,206.4 664.7,207.9C670.3,210.9 674.8,215.8 679.8,219.7"/>
<path class="p" d="M657.1,204.6L689.9,224.8L691.2,209.9L700,204.9"/>
<path class="p" d="M560,169.4L570.5,175.8"/>
<path class="p" d="M596.7,192.9L629.8,210.4"/>
<path class="p" d="M560,196.4L568.7,200.8"/>
<path class="t" d="M597.5,194.7L597.5,210.4"/>
<path class="p" d="M677.9,110.9C678.7,109.7 679.2,108.1 680.5,107.4C684.9,105.1 689.8,103.9 694.4,102.1"/>
<path class="p" d="M677.9,110.9C679.3,121.3 680.6,131.9 682.2,142.3C682.9,146.5 684,150.7 684.8,154.9"/>
<path class="p" d="M682.2,109.1L692.7,105.6L771.3,159.8L770.4,161.9L689.2,155.4L686.1,152.8L680.5,124.8Z"/>
<path class="p" d="M696.2,98.7L773.9,151.4"/>
<path class="p" d="M705.8,88.2L774.4,140.9"/>
<path class="p" d="M773.9,140.6L773.9,158L771.3,159.8"/>
<path class="p" d="M691.8,80.3L694.4,81.2L694.8,89L708.4,101.3L704.9,86.4L694.8,89"/>
<path class="t" d="M691.8,80.3L692.3,89.9L696.2,92.5"/>
<path class="p" d="M685.7,82.9L691.8,80.3"/>
<path class="t" d="M685.7,82.9L686.1,103L692.7,101.3"/>
<path class="p" d="M696.2,77.7C700.8,71.9 707.1,67.3 713.7,63.7C716.7,62 720.6,61.8 724.1,62.3C726.5,62.7 729.2,64.2 730.2,66.3C731.1,68.2 730.4,70.9 729,72.5C725.8,76.1 721.4,78.8 717.1,81.2C714.5,82.7 711.5,83.8 708.4,83.8C705.4,83.8 702.4,82.5 699.7,81.2C698.2,80.5 695.2,79 696.2,77.7Z"/>
<ellipse class="p" cx="720.3" cy="68.6" rx="5.6" ry="3.5"/>
<path class="t" d="M699.7,81.2C702.6,82.5 705.2,84.8 708.4,85C711.7,85.3 715.1,84.1 718,82.6C721.9,80.6 725,77.2 728.5,74.6"/>
<path class="p" d="M699.7,168.5C699.8,172.3 698.4,176.4 700,179.8C701.6,183.1 705.1,185.4 708.4,186.8C712.2,188.4 716.5,188.9 720.6,188.6C724,188.3 727.3,186.9 730.2,185.1C732.2,183.9 734,182 734.6,179.8C735.6,176.2 734.6,172.3 734.6,168.5"/>
<ellipse class="w" cx="717.1" cy="168.5" rx="17.5" ry="9.6"/>
<path class="p" d="M680.5,159.8L689.2,155.4"/>
<path class="p" d="M734.6,194.7L780,167.6"/>
<path class="p" d="M724.1,205.2L734.6,194.7"/>
<path class="t" d="M732,197.3L747.7,206"/>
<path class="p" d="M728.7,73.3L743.5,83.7"/>
<path class="t" d="M729.6,75.9L742.6,86"/>
<path class="p" d="M743.2,89.8C743.3,90.7 743,91.7 743.5,92.4C744.6,94.1 746,95.8 747.9,96.8C750.2,98 753,98.5 755.7,98.5C757.8,98.5 760,97.9 761.8,96.8C763.2,95.8 763.7,93.9 764.7,92.4"/>
<ellipse class="w" cx="753.9" cy="89.8" rx="10.8" ry="6.1"/>
<path class="p" d="M764.7,92.4L781.8,102L785.3,105.5"/>
<path class="p" d="M768.7,112.4C768.9,113.3 768.8,114.3 769.3,115C770.3,116.6 771.4,118.2 773.1,119C775.2,120.1 777.7,120.5 780,120.3C782.2,120 784.4,119 786.1,117.6C787.2,116.8 787.3,115.3 787.9,114.2"/>
<ellipse class="w" cx="778.3" cy="112.1" rx="9.6" ry="6.1"/>
<ellipse class="p" cx="778.3" cy="112.1" rx="4.9" ry="3"/>
<path class="p" d="M787.9,115.9L800.9,116.2L821.8,129.8L823.5,136.8"/>
<path class="p" d="M754.8,100.2C755.1,102.6 754.7,105.1 755.7,107.2C760.9,118.5 768,128.9 773.1,140.3C775,144.6 775.4,149.6 776.6,154.2C777.4,157.4 778.3,160.6 779.2,163.8"/>
<path class="p" d="M787,148.1C789.3,149.3 791.4,151.3 794,151.7C805.5,153.5 817.1,154.3 828.8,154.5C833,154.6 837.1,153.4 841.3,152.8"/>
<path class="w" d="M785.3,142C785.3,140.7 785.9,139.2 787,138.5C789,137.2 791.5,136.4 794,136.4C808.5,136.3 823,136.6 837.5,138.2C840.1,138.5 842.7,140 844.4,142C845.6,143.3 845.9,145.6 845.3,147.2C844.6,149.1 842.9,151 840.9,151.6C837.1,152.8 832.8,152.6 828.8,152.4C817.1,152 805.5,151.3 794,149.8C791.5,149.5 788.8,148.9 787,147.2C785.6,146 785.3,143.8 785.3,142Z"/>
<ellipse class="p" cx="795.4" cy="142" rx="4.9" ry="3"/>
<ellipse class="p" cx="834" cy="145" rx="4.4" ry="2.8"/>
<path class="p" d="M797.1,162L797.4,176.8M797.4,176.8C800.9,179.1 803.8,182.7 807.9,183.8C812.4,184.9 817.2,183.6 821.8,182.9C823.1,182.7 824.1,181.7 825.3,181.2M825.3,162L825.3,181.7"/>
<ellipse class="w" cx="811.4" cy="161.1" rx="13.9" ry="7.8"/>
<ellipse class="p" cx="811.4" cy="161.5" rx="8.7" ry="4.9"/>
<ellipse class="p" cx="811.4" cy="163.2" rx="5.2" ry="2.4"/>
<path class="p" d="M727.8,199.4L785.3,161.1L796.6,164.6"/>
<path class="p" d="M779.2,163.8L785.3,161.1"/>
<path class="p" d="M845.3,147.2L847.9,176.8L849.6,209.9"/>
<path class="p" d="M825.3,175.1C829.9,175.4 834.6,176.3 839.2,175.9C841.7,175.7 843.8,174.2 846.2,173.3"/>
<path class="p" d="M839.2,175.9L840.9,209.9"/>
<path class="t" d="M845.8,175.1L847.4,209.9"/>
<path class="p" d="M821.8,182.9L778.3,209.9"/>
<path class="p" d="M730.5,195.9L748.7,209.9"/>
<ellipse class="p" cx="715.7" cy="204.3" rx="3.8" ry="2.6"/>
<path class="t" d="M700,192.5C703.5,193.6 707,194.6 710.4,195.9C714.6,197.5 719.1,198.5 722.6,201.2C724.2,202.4 723.8,204.9 724.4,206.7"/>
<!-- engine block - zone C/D left -->
<path class="p" d="M543.3,160.3L543.7,128C545.8,125.9 547.4,123.2 550,121.7C551.5,120.7 553.7,120.1 555.4,120.8C563.6,124.1 571.5,128.2 578.7,133.4C581,135 583.2,137.7 583.2,140.5C583.2,143.4 580.7,145.7 578.7,147.7C577.8,148.6 576.3,148.3 575.1,148.6"/>
<path class="p" d="M543.7,133.4C551.8,138.1 560.3,142.2 567.9,147.7C570.4,149.5 572.3,152.1 573.3,154.9C574.2,157.2 574.6,160.1 573.3,162.1C571.3,165.3 567.4,167 564.3,169.3C563.2,170.1 561.9,170.7 560.7,171.4"/>
<path class="t" d="M575.1,148.6L571.5,153.1"/>
<path class="p" d="M525.7,189L526.6,160.3L531.1,154L569.7,176.5C569.7,189.6 571.3,202.9 569.7,216C569.4,218.5 566.5,220 564.3,221.4C562.8,222.4 560.7,222.6 559,223.2"/>
<path class="p" d="M526.6,178.3C527.8,179.5 529,180.7 530.2,181.9"/>
<path class="p" d="M530.2,181.9L568.8,203.4"/>
<path class="t" d="M528.4,181L568.8,206.1"/>
<path class="t" d="M528.4,161.2L567.9,183.7"/>
<path class="p" d="M508.7,195.3L510.4,142.3"/>
<path class="p" d="M510.4,142.3C511.6,141.1 512.5,139.5 514,138.7C515.7,137.9 517.7,137.4 519.4,137.8C521.5,138.4 523,140.2 524.8,141.4"/>
<path class="p" d="M524.8,141.4L524.8,145.9L521.2,148.6L510.4,143.2"/>
<path class="p" d="M524.8,145.9L524.5,189"/>
<path class="p" d="M521.2,148.6C521.5,162.7 521.1,176.8 522.1,190.8C522.3,194 523.4,197 524.8,199.8C526.8,203.7 529,207.5 532,210.6C535.1,213.7 538.9,216 542.8,217.8C547.9,220.2 553.6,221.4 559,223.2"/>
<path class="t" d="M522.7,148.6L523.4,189"/>
<ellipse class="p" cx="518" cy="142.3" rx="3.2" ry="2"/>
<path class="p" d="M519.4,137.3L521.2,133L522.7,136.9"/>
<path class="p" d="M508.7,195.3L493.4,185.4L488.9,198L486.2,195.9L481.7,205.2L475.4,202.5L471.8,210.6"/>
<path class="t" d="M494.3,187.6L508.7,193"/>
<path class="t" d="M488,198L496.1,198.4"/>
<path class="p" d="M438.6,269.9L438.6,217.8L442.2,216L453,223.2"/>
<path class="p" d="M453,223.2C454.8,221.1 456.1,218.5 458.4,216.9C461,214.9 464.3,213.9 467.3,212.4"/>
<path class="p" d="M467.3,212.4C471.5,209.4 475.3,205.7 479.9,203.4C485,200.9 490.4,198.4 496.1,198C499.9,197.8 503.9,199.3 506.9,201.6C509.6,203.8 511.1,207.3 512.2,210.6C513.3,213.7 512.8,217.2 513.1,220.5"/>
<path class="p" d="M487.1,208.8C488.3,211.8 489.1,215 490.7,217.8C492.1,220.4 494.3,222.6 496.1,225"/>
<path class="p" d="M513.1,207.9C518.2,208.8 523.7,208.5 528.4,210.6C533.9,213.1 538.4,217.3 542.8,221.4C546.2,224.5 548.8,228.6 551.8,232.2"/>
<path class="p" d="M521.2,235.7C526,232.8 530.4,229 535.6,226.8C538.9,225.3 542.9,224 546.4,225C550.1,226 553.2,229 555.4,232.2C557.5,235.3 558.6,239.2 559,242.9C559.2,245.4 557.8,247.7 557.2,250.1"/>
<path class="t" d="M535.6,226.8C537.4,231 538.5,235.5 541,239.3C543.3,242.9 547,245.3 550,248.3"/>
<path class="p" d="M486.2,208.4L550,243.8L553.6,253.7"/>
<path class="t" d="M488.4,211L548.5,245.1"/>
<path class="p" d="M512.2,212.4L573.3,246.5L573.3,255.5"/>
<path class="t" d="M514.9,210.6L574.8,244.7"/>
<path class="t" d="M571.5,246.5L571.5,255.5"/>
<path class="p" d="M467.3,212.4L578.7,269.9"/>
<path class="t" d="M470.9,213.3L496.1,226.8"/>
<path class="p" d="M559,250.1L564.3,253.7L564.3,256.4L559,254.6L553.6,253.7"/>
<path class="p" d="M499.7,226.8C499.8,227.8 499.3,229.2 500,230C501,231.2 502.6,232.2 504.2,232.2C505.8,232.2 507.6,231.3 508.7,230C509.3,229.2 508.7,227.8 508.7,226.8"/>
<ellipse class="w" cx="504.2" cy="226.8" rx="4.5" ry="2.5"/>
<ellipse class="p" cx="476" cy="226.8" rx="2.5" ry="4" transform="rotate(-20 476 226.8)"/>
<path class="p" d="M570.6,178.3L578.7,174.7L589.5,175.6L595.8,176.5L595.8,179.2L587.7,181.9L576.9,181.9Z"/>
<ellipse class="p" cx="581.9" cy="178.6" rx="2.7" ry="1.6"/>
<path class="p" d="M571,179.2L571.5,255.5"/>
<path class="p" d="M576.9,181.9L576.9,257.3"/>
<path class="p" d="M587.7,181.9L588.6,257.3"/>
<path class="p" d="M595.8,179.2L597.6,260.9"/>
<ellipse class="p" cx="585.9" cy="261.3" rx="10.8" ry="4.5" transform="rotate(10 585.9 261.3)"/>
<path class="p" d="M597.6,190.8L615,199.8"/>
<path class="t" d="M597.6,194.4L615,203.4"/>
<path class="p" d="M598.5,242.9C600.9,241.4 602.9,239 605.7,238.4C608.7,237.8 611.9,239 615,239.3"/>
<path class="p" d="M600.3,264.5L615,255.5"/>
<path class="p" d="M602.1,268.4L615,260.4"/>
<path class="p" d="M438.5,240L438.5,254.7L441.9,256.7L442.9,288.1C444.2,289.1 445.4,290.2 446.8,291.1C451.3,293.8 456.5,295.5 460.5,298.9C462.9,300.9 464.7,303.8 465.5,306.8C466.7,311.9 465.3,317.4 466.4,322.5C467.3,326.1 468.8,329.8 471.3,332.3C474.3,335.2 478.3,336.9 482.2,338.2C485.9,339.6 490.2,338.8 493.9,340.2C498.2,341.8 502.2,344.2 505.7,347.1C508.8,349.5 511.1,352.9 513.6,355.9C516.3,359.1 518.8,362.5 521.5,365.7"/>
<path class="p" d="M521.5,365.7C523.4,365.2 525.3,364.3 527.3,364.2C529.3,364 531.3,364.3 533.2,364.8C536,365.5 538.8,366.1 541.1,367.7C544.9,370.4 548.1,373.9 550.9,377.5C553.7,381.1 555,385.8 557.8,389.3C560.3,392.4 563.1,395.5 566.6,397.2C568.4,398 570.8,397.2 572.5,396.2C574.6,395.1 576.6,393.4 577.5,391.3C579.3,387 579.2,382.1 580.4,377.5C581.5,373.5 583.2,369.7 584.3,365.7C585.2,362.5 585.6,359.2 586.3,355.9"/>
<path class="p" d="M586.3,355.9L586.3,281.3L513.6,240"/>
<path class="p" d="M446.8,291.1C447.4,295.7 447.3,300.4 448.8,304.8C450.6,310.4 453.2,315.8 456.6,320.6C459.8,325.1 464,328.9 468.4,332.3C472,335.2 476.3,336.9 480.2,339.2"/>
<path class="p" d="M521.5,365.7C521.8,370.3 521.4,375 522.4,379.5C522.8,381.1 524.4,382.1 525.4,383.4"/>
<path class="p" d="M525.4,383.4L590.2,414.9"/>
<path class="t" d="M472.3,334.3C479.5,338.2 487,341.7 493.9,346.1C503.4,352.2 512.3,359.2 521.5,365.7"/>
<ellipse class="p" cx="498.5" cy="289.1" rx="32.4" ry="51.5" transform="rotate(-25 498.5 289.1)"/>
<ellipse class="p" cx="451.7" cy="262.6" rx="2.8" ry="4.1" transform="rotate(-20 451.7 262.6)"/>
<ellipse class="p" cx="521.5" cy="252.8" rx="2.8" ry="4.1" transform="rotate(-20 521.5 252.8)"/>
<ellipse class="p" cx="576.1" cy="291.1" rx="2.8" ry="4.1" transform="rotate(-20 576.1 291.1)"/>
<ellipse class="p" cx="475.3" cy="326.1" rx="2.8" ry="4.1" transform="rotate(-20 475.3 326.1)"/>
<ellipse class="p" cx="574.9" cy="333.3" rx="2.8" ry="4.1" transform="rotate(-20 574.9 333.3)"/>
<ellipse class="p" cx="521.5" cy="352.4" rx="2.8" ry="4.1" transform="rotate(-20 521.5 352.4)"/>
<ellipse class="p" cx="564.1" cy="384.4" rx="2.8" ry="4.1" transform="rotate(-20 564.1 384.4)"/>
<ellipse class="p" cx="554.9" cy="301.9" rx="11.4" ry="17.3" transform="rotate(-22 554.9 301.9)"/>
<ellipse class="t" cx="555.2" cy="302.5" rx="9.8" ry="15.7" transform="rotate(-22 555.2 302.5)"/>
<ellipse class="p" cx="554.9" cy="342.2" rx="10.2" ry="15.7" transform="rotate(-22 554.9 342.2)"/>
<ellipse class="t" cx="555.2" cy="342.8" rx="8.8" ry="14.1" transform="rotate(-22 555.2 342.8)"/>
<path class="p" d="M556.8,302.9L481.2,442.4"/>
<path class="p" d="M557.2,342.6L481.2,469.9"/>
<path class="p" d="M480.6,501.2L617.5,352.5"/>
<path class="p" d="M588.3,282.2L590.2,414.9"/>
<path class="p" d="M586.3,281.3L625,261.6"/>
<path class="p" d="M581.4,270.5L590.2,275.4L625,258.7"/>
<path class="p" d="M597.1,332.3L597.1,286.2L625,272.4"/>
<path class="p" d="M597.1,332.3L625,320.6"/>
<path class="t" d="M600,294L625,281.7"/>
<path class="p" d="M582.4,354.9C582.4,358.5 583.3,362.3 582.4,365.7C581.3,370 577.9,373.4 576.5,377.5C575.2,381.3 575.3,385.4 574.5,389.3C574,391.7 573.2,393.9 572.5,396.2"/>
<path class="p" d="M586.3,355.9L596.1,351L597.1,375.6"/>
<path class="t" d="M592.2,355.9L593.2,373.6"/>
<path class="p" d="M602,383.4L602,405L591.2,410.9"/>
<path class="p" d="M612.8,383.4L612.8,397.2L602,405"/>
<path class="p" d="M597.1,375.6L602,377.5L605.9,383.4"/>
<!-- engine block - zone E/F right-bottom -->
<path class="p" d="M607.2,200L660.4,231.4L679.7,222.9L708.6,213.3"/>
<path class="p" d="M660.4,231.4C660.4,268.4 659.2,305.4 660.4,342.4C660.4,345.5 662,348.6 664,350.9C665.1,352.1 667.4,352.9 668.8,352.1C670.8,350.9 671.2,348.1 672.4,346.1L703.8,330.4L709.8,312.3"/>
<path class="p" d="M666.4,254.3L695.4,237.4C696.4,238.2 698.4,238.5 698.5,239.8C699.5,264.4 699.1,288.9 698.5,313.5C698.5,315.2 697.2,316.7 696.6,318.3L666.4,335.2C665.3,334 663.3,333.2 663.3,331.6C662.1,307.9 661.8,284.1 662.8,260.4C662.9,258 665.2,256.3 666.4,254.3Z"/>
<path class="t" d="M664.7,261.6L667.6,256.7L694.6,240.6C695.3,241.1 696.5,241.4 696.6,242.2C697.2,265.6 696.6,288.9 696.6,312.3"/>
<path class="p" d="M663.3,292.9L697.8,312.3"/>
<path class="p" d="M663.3,299L696.6,318.3"/>
<ellipse class="p" cx="671.9" cy="237.4" rx="3.4" ry="5.3" transform="rotate(25 671.9 237.4)"/>
<ellipse class="p" cx="688.8" cy="233.8" rx="3.4" ry="5.3" transform="rotate(25 688.8 233.8)"/>
<ellipse class="p" cx="668.3" cy="340" rx="3.1" ry="4.8" transform="rotate(25 668.3 340)"/>
<path class="p" d="M682.1,245.9C683.3,247.9 683.9,250.5 685.7,251.9C687.7,253.5 690.6,255.2 692.9,254.3C695,253.6 694.6,250.3 695.4,248.3"/>
<path class="p" d="M636.2,200C638.6,204 640.4,208.5 643.5,212.1C646.9,216.2 651.5,219.3 655.5,222.9"/>
<path class="p" d="M643.5,212.1C648.3,210.5 653,206.1 657.9,207.2C666.2,209.2 673.4,214.7 679.7,220.5C681,221.7 676.5,222.1 674.8,222.9"/>
<path class="t" d="M651.9,343.6L660.4,344.9"/>
<path class="p" d="M600,264L649.5,242.2L651.9,243.5L651.9,274.8L600,297.8"/>
<path class="t" d="M600,270L651.9,247.1"/>
<path class="p" d="M600,284.5L651.9,261.6"/>
<path class="t" d="M649.5,242.2L649.5,245.9"/>
<path class="p" d="M600,239.8C603.2,239.4 606.6,237.6 609.7,238.6C615.1,240.5 619.3,245.1 624.1,248.3"/>
<path class="p" d="M624.1,248.3L630.2,251.9L604.8,262.8"/>
<path class="p" d="M600,306.2L614.5,295.4L651.9,318.3L651.9,343.6L664,350.9"/>
<path class="p" d="M614.5,295.4L614.5,303.8L622.9,308.6L622.9,329.2"/>
<path class="t" d="M622.9,308.6L633.8,306.2L633.8,311.1L624.1,315.9"/>
<path class="p" d="M622.9,329.2L651.9,318.3"/>
<path class="t" d="M600,313.5L614.5,304.3"/>
<path class="p" d="M600,342.4C601.6,340 602.2,336.4 604.8,335.2C610.4,332.6 616.9,330.6 622.9,331.6C628.1,332.4 631.8,337.2 636.2,340"/>
<path class="p" d="M636.2,340C637.8,336.8 638.8,333.2 641,330.4C644.1,326.6 648.3,323.9 651.9,320.7"/>
<path class="p" d="M641,330.4C641.4,339.2 642.5,348.1 642.2,356.9C642.1,360.2 641.5,363.7 639.8,366.6C637.7,370.3 634.9,373.8 631.4,376.2C629,377.9 625.7,377.6 622.9,378.7C619.2,380 616,383.5 612.1,383.5C607.7,383.5 604,380.3 600,378.7"/>
<ellipse class="p" cx="619.3" cy="354.5" rx="15" ry="21.2" transform="rotate(25 619.3 354.5)"/>
<ellipse class="p" cx="618.8" cy="355.7" rx="12.6" ry="18.3" transform="rotate(25 618.8 355.7)"/>
<path class="t" d="M607.2,369C610.5,364.2 614.3,359.7 616.9,354.5C619.2,350 620.1,344.9 621.7,340"/>
<ellipse class="p" cx="604.8" cy="344.9" rx="2.7" ry="4.1" transform="rotate(25 604.8 344.9)"/>
<ellipse class="p" cx="632.6" cy="366.6" rx="2.7" ry="4.1" transform="rotate(25 632.6 366.6)"/>
<path class="p" d="M600,390.7L612.1,383.5L612.1,395.6L600,405.2"/>
<path class="t" d="M603.6,387.1L603.6,402.8"/>
<path class="p" d="M749.2,190L749.2,206.3M749.2,206.3C752.4,208.5 755,211.8 758.7,212.9C762.4,214.1 766.6,214.3 770.2,212.9C773.7,211.6 775.9,207.9 778.8,205.3M778.8,190L778.8,205.3"/>
<path class="t" d="M747.3,209.1C750.4,211.4 753.1,214.7 756.8,215.8C761.1,217.1 765.7,215.8 770.2,215.8"/>
<ellipse class="w" cx="764.1" cy="189.1" rx="14.9" ry="8.6"/>
<ellipse class="p" cx="764.1" cy="189.5" rx="9.2" ry="5.2"/>
<ellipse class="p" cx="764.1" cy="191.4" rx="5.3" ry="2.7"/>
<path class="p" d="M690,175.7L709.1,194.8L723.4,201.5"/>
<path class="t" d="M709.1,194.8C712.3,195.8 715.8,196 718.6,197.7C720.9,199 723.3,200.9 724,203.4C724.5,205.4 723.2,207.9 721.5,209.1C719.1,210.8 715.8,210.4 712.9,211"/>
<path class="p" d="M711,211C711.3,217.1 710.3,223.4 712,229.2C712.4,230.8 715,230.9 716.7,231.1C718.7,231.3 721.9,232 722.4,230.1C724.5,223.1 723.1,215.5 723.4,208.2"/>
<path class="p" d="M724.4,200.5L770.2,170"/>
<path class="p" d="M724.4,200.5L733.9,196.7L753,223.4"/>
<path class="p" d="M725.3,220.6L725.3,240.6L753,224.4"/>
<path class="p" d="M753,223.4L821.7,182.4L823.6,181.5"/>
<path class="p" d="M755.9,225.4L823.6,185.3"/>
<path class="p" d="M823.6,181.5L824.6,213.9"/>
<path class="p" d="M825.5,175.7C830.6,176 835.7,177.2 840.8,176.7C842.6,176.5 844,174.8 845.6,173.8"/>
<path class="p" d="M845.6,170L845.6,173.8"/>
<path class="p" d="M840.8,176.7L842.7,213.9"/>
<path class="p" d="M847.5,170L850.3,217.7"/>
<path class="p" d="M824.6,213.9C826.8,212.8 828.8,210.6 831.3,210.5C833.9,210.3 836.7,211.4 838.9,212.9C841.3,214.6 842,218.3 844.6,219.6C846.3,220.5 848.5,218.2 850.3,218.7C852.3,219.2 854.3,220.6 855.1,222.5C856.3,225.1 856.3,228.2 856.1,231.1C856,232.5 854.1,233.5 854.2,234.9C854.4,238.8 856.1,242.5 857,246.4C857.7,248.9 858.8,251.4 858.9,254C859.1,257.2 859.4,260.7 858,263.5C856.9,265.6 854.3,266.3 852.2,267.3C846.6,270.2 840.7,272.3 835.1,275C827.4,278.7 819.7,282.4 812.2,286.4C808.9,288.2 805.8,290.3 802.6,292.2"/>
<ellipse class="p" cx="835.1" cy="238.7" rx="18.1" ry="13.7"/>
<path class="p" d="M819.8,246.4C823.6,244.6 827.1,241.7 831.3,241C835.1,240.4 839.2,240.9 842.7,242.5C845.4,243.8 846.5,247 848.4,249.2"/>
<path class="p" d="M831.8,241L831.8,252.5"/>
<ellipse class="p" cx="848" cy="224" rx="4.2" ry="3.4"/>
<path class="p" d="M824.6,213.9C823,217.1 821.6,220.4 819.8,223.4C817.5,227.4 815.1,231.4 812.2,234.9C808.1,239.7 803.4,244 798.8,248.3C795.8,251 792.1,253 789.3,255.9C787.9,257.2 787.3,259.1 786.4,260.7"/>
<path class="p" d="M816.9,267.3C823,264.8 828.9,262 835.1,259.7C840.7,257.6 847.1,257.2 852.2,254C854.7,252.4 855,248.9 856.4,246.4"/>
<path class="t" d="M814.1,284.5L856.1,265.4"/>
<path class="p" d="M786.4,260.7C788,258.4 788.8,255.4 791.2,254C794.6,252 798.7,250.8 802.6,251.1C806.2,251.4 809.7,253.3 812.2,255.9C814.5,258.4 815.5,262 816,265.4C816.8,271.1 817,277 816,282.6C815.6,284.6 813.4,285.8 812.2,287.4"/>
<ellipse class="p" cx="802.6" cy="272.1" rx="9.5" ry="5.7"/>
<ellipse class="t" cx="803" cy="272.5" rx="7.6" ry="4.4"/>
<path class="p" d="M793.1,259.7C793.4,264.2 793.2,268.7 794,273.1C794.4,275.2 794.9,278 796.9,278.8C801.6,280.7 807.1,279.8 812.2,280.3"/>
<path class="p" d="M783.5,301.7C783.5,298.5 783.1,295.3 783.5,292.2C783.8,290.5 784.1,288.5 785.4,287.4C787.6,285.7 790.4,284.5 793.1,284.5C795.8,284.5 798.6,285.7 800.7,287.4C802,288.5 802.5,290.5 802.6,292.2C803.1,297.2 804,302.5 802.6,307.4C801.9,309.8 799.3,311.7 796.9,312.2C792.5,313.1 788,311.6 783.5,311.3"/>
<ellipse class="p" cx="793.1" cy="291.2" rx="5.3" ry="3.4"/>
<path class="p" d="M783.5,301.7L783.5,311.3"/>
<path class="p" d="M709.1,312.2L794,259.7"/>
<path class="p" d="M794,259.7C793.7,263.5 793.9,267.4 793.1,271.2C792.3,275.1 791.3,279.1 789.3,282.6C786.8,286.9 782.9,290.3 779.7,294.1"/>
<ellipse class="p" cx="773.4" cy="298.8" rx="4.8" ry="2.9"/>
<path class="p" d="M709.1,312.2C715.5,311.9 721.9,312 728.2,311.3C734.6,310.4 740.9,308.7 747.3,307.4C753.6,306.2 760,304.8 766.4,303.6C770.2,302.9 774,302.1 777.8,301.7C779.7,301.5 781.6,301.7 783.5,301.7"/>
<path class="p" d="M709.1,312.2C707.8,315.7 706.7,319.3 705.3,322.7C704.2,325.3 703.6,328.5 701.5,330.3C698.2,333.1 693.8,334.2 690,336.1"/>
<path class="p" d="M701.5,330.3C710.4,330 719.3,330.1 728.2,329.4C734.6,328.9 740.9,327.6 747.3,326.5C752.4,325.7 757.4,324 762.5,323.7C767.6,323.3 772.8,325.7 777.8,324.6C780.4,324 781.6,320.8 783.5,318.9"/>
</g>
</svg>
</body></html>
